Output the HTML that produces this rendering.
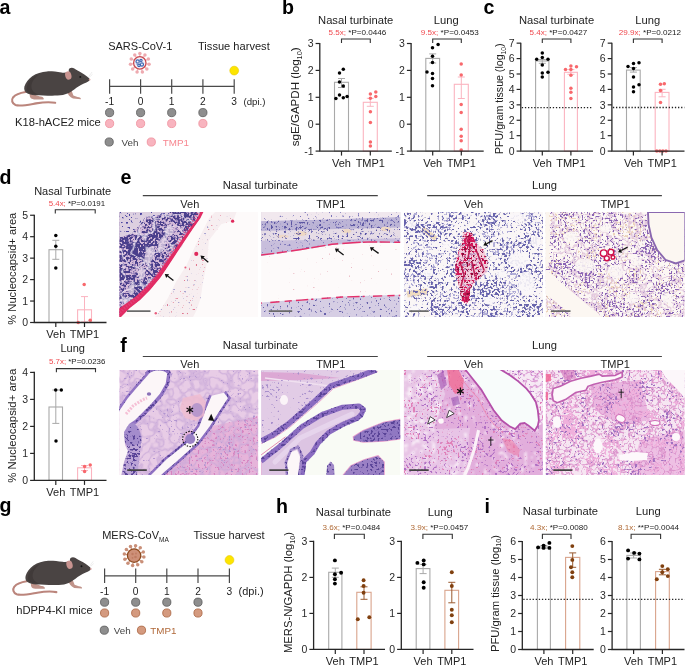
<!DOCTYPE html><html><head><meta charset="utf-8"><style>html,body{margin:0;padding:0;background:#fff;overflow:hidden}svg{display:block;will-change:transform}text{font-family:"Liberation Sans",sans-serif}</style></head><body>
<svg width="685" height="666" viewBox="0 0 685 666">
<rect width="685" height="666" fill="#fff"/>
<text x="-0.5" y="14" font-size="19.6" text-anchor="start" fill="#000" font-weight="bold" >a</text>
<text x="282.1" y="14" font-size="19.6" text-anchor="start" fill="#000" font-weight="bold" >b</text>
<text x="483.5" y="14.3" font-size="19.6" text-anchor="start" fill="#000" font-weight="bold" >c</text>
<text x="-0.5" y="183.7" font-size="19.6" text-anchor="start" fill="#000" font-weight="bold" >d</text>
<text x="120.5" y="184.0" font-size="19.6" text-anchor="start" fill="#000" font-weight="bold" >e</text>
<text x="120.3" y="352" font-size="19.6" text-anchor="start" fill="#000" font-weight="bold" >f</text>
<text x="-0.5" y="512.4" font-size="19.6" text-anchor="start" fill="#000" font-weight="bold" >g</text>
<text x="275.9" y="512.9" font-size="19.6" text-anchor="start" fill="#000" font-weight="bold" >h</text>
<text x="484.6" y="512.8" font-size="19.6" text-anchor="start" fill="#000" font-weight="bold" >i</text>
<rect x="334.5" y="82.3" width="14.0" height="68.8" fill="none" stroke="#a9a9a9" stroke-width="1.1"/>
<rect x="363.3" y="102.3" width="14.0" height="48.8" fill="none" stroke="#fbb4c0" stroke-width="1.1"/>
<line x1="341.5" y1="78.5" x2="341.5" y2="87.5" stroke="#a9a9a9" stroke-width="1"/>
<line x1="338.0" y1="78.5" x2="345.0" y2="78.5" stroke="#a9a9a9" stroke-width="1"/>
<line x1="338.0" y1="87.5" x2="345.0" y2="87.5" stroke="#a9a9a9" stroke-width="1"/>
<circle cx="343.3" cy="69.3" r="1.75" fill="#000"/>
<circle cx="339.5" cy="72.9" r="1.75" fill="#000"/>
<circle cx="339.5" cy="82" r="1.75" fill="#000"/>
<circle cx="343.3" cy="86" r="1.75" fill="#000"/>
<circle cx="339.5" cy="95" r="1.75" fill="#000"/>
<circle cx="335.9" cy="98.6" r="1.75" fill="#000"/>
<circle cx="343.3" cy="97.7" r="1.75" fill="#000"/>
<circle cx="347.1" cy="96.5" r="1.75" fill="#000"/>
<line x1="370.3" y1="98.3" x2="370.3" y2="106.3" stroke="#fbb4c0" stroke-width="1"/>
<line x1="366.8" y1="98.3" x2="373.8" y2="98.3" stroke="#fbb4c0" stroke-width="1"/>
<line x1="366.8" y1="106.3" x2="373.8" y2="106.3" stroke="#fbb4c0" stroke-width="1"/>
<circle cx="370.4" cy="94" r="1.75" fill="#f8686c"/>
<circle cx="375.8" cy="92" r="1.75" fill="#f8686c"/>
<circle cx="370.4" cy="98.3" r="1.75" fill="#f8686c"/>
<circle cx="375.8" cy="96.5" r="1.75" fill="#f8686c"/>
<circle cx="370.4" cy="111.8" r="1.75" fill="#f8686c"/>
<circle cx="370.4" cy="122.5" r="1.75" fill="#f8686c"/>
<circle cx="370.4" cy="141.9" r="1.75" fill="#f8686c"/>
<circle cx="370.4" cy="146" r="1.75" fill="#f8686c"/>
<path d="M319.8,42.9 V151.1 H391.8" fill="none" stroke="#262626" stroke-width="1.3"/>
<line x1="315.6" y1="43.5" x2="319.8" y2="43.5" stroke="#262626" stroke-width="1.2"/>
<text x="313.6" y="47.2" font-size="10.5" text-anchor="end" fill="#2a2a2a" font-weight="normal" >3</text>
<line x1="315.6" y1="70.4" x2="319.8" y2="70.4" stroke="#262626" stroke-width="1.2"/>
<text x="313.6" y="74.10000000000001" font-size="10.5" text-anchor="end" fill="#2a2a2a" font-weight="normal" >2</text>
<line x1="315.6" y1="97.3" x2="319.8" y2="97.3" stroke="#262626" stroke-width="1.2"/>
<text x="313.6" y="101.0" font-size="10.5" text-anchor="end" fill="#2a2a2a" font-weight="normal" >1</text>
<line x1="315.6" y1="124.2" x2="319.8" y2="124.2" stroke="#262626" stroke-width="1.2"/>
<text x="313.6" y="127.9" font-size="10.5" text-anchor="end" fill="#2a2a2a" font-weight="normal" >0</text>
<line x1="315.6" y1="151.1" x2="319.8" y2="151.1" stroke="#262626" stroke-width="1.2"/>
<text x="313.6" y="154.79999999999998" font-size="10.5" text-anchor="end" fill="#2a2a2a" font-weight="normal" >-1</text>
<line x1="341.5" y1="151.1" x2="341.5" y2="155.6" stroke="#262626" stroke-width="1.2"/>
<line x1="370.3" y1="151.1" x2="370.3" y2="155.6" stroke="#262626" stroke-width="1.2"/>
<rect x="425.8" y="58.4" width="13.800000000000011" height="92.69999999999999" fill="none" stroke="#a9a9a9" stroke-width="1.1"/>
<rect x="454.3" y="84.3" width="14.0" height="66.8" fill="none" stroke="#fbb4c0" stroke-width="1.1"/>
<line x1="432.7" y1="53.9" x2="432.7" y2="63" stroke="#a9a9a9" stroke-width="1"/>
<line x1="429.2" y1="53.9" x2="436.2" y2="53.9" stroke="#a9a9a9" stroke-width="1"/>
<line x1="429.2" y1="63" x2="436.2" y2="63" stroke="#a9a9a9" stroke-width="1"/>
<circle cx="438.1" cy="44.6" r="1.75" fill="#000"/>
<circle cx="432.5" cy="47.8" r="1.75" fill="#000"/>
<circle cx="432.5" cy="56.3" r="1.75" fill="#000"/>
<circle cx="432.5" cy="62.4" r="1.75" fill="#000"/>
<circle cx="427" cy="72.1" r="1.75" fill="#000"/>
<circle cx="432.5" cy="73.5" r="1.75" fill="#000"/>
<circle cx="432.5" cy="78.6" r="1.75" fill="#000"/>
<circle cx="432.5" cy="85.7" r="1.75" fill="#000"/>
<line x1="461.3" y1="77" x2="461.3" y2="98.5" stroke="#fbb4c0" stroke-width="1"/>
<line x1="457.8" y1="77" x2="464.8" y2="77" stroke="#fbb4c0" stroke-width="1"/>
<line x1="457.8" y1="98.5" x2="464.8" y2="98.5" stroke="#fbb4c0" stroke-width="1"/>
<circle cx="461.2" cy="64" r="1.75" fill="#f8686c"/>
<circle cx="461.2" cy="75" r="1.75" fill="#f8686c"/>
<circle cx="461.2" cy="104.5" r="1.75" fill="#f8686c"/>
<circle cx="461.2" cy="112.4" r="1.75" fill="#f8686c"/>
<circle cx="461.2" cy="129.3" r="1.75" fill="#f8686c"/>
<circle cx="461.2" cy="136.3" r="1.75" fill="#f8686c"/>
<circle cx="461.2" cy="140.8" r="1.75" fill="#f8686c"/>
<circle cx="461.2" cy="150" r="1.75" fill="#f8686c"/>
<path d="M411.1,42.9 V151.1 H483.7" fill="none" stroke="#262626" stroke-width="1.3"/>
<line x1="406.90000000000003" y1="43.5" x2="411.1" y2="43.5" stroke="#262626" stroke-width="1.2"/>
<text x="404.90000000000003" y="47.2" font-size="10.5" text-anchor="end" fill="#2a2a2a" font-weight="normal" >3</text>
<line x1="406.90000000000003" y1="70.4" x2="411.1" y2="70.4" stroke="#262626" stroke-width="1.2"/>
<text x="404.90000000000003" y="74.10000000000001" font-size="10.5" text-anchor="end" fill="#2a2a2a" font-weight="normal" >2</text>
<line x1="406.90000000000003" y1="97.3" x2="411.1" y2="97.3" stroke="#262626" stroke-width="1.2"/>
<text x="404.90000000000003" y="101.0" font-size="10.5" text-anchor="end" fill="#2a2a2a" font-weight="normal" >1</text>
<line x1="406.90000000000003" y1="124.2" x2="411.1" y2="124.2" stroke="#262626" stroke-width="1.2"/>
<text x="404.90000000000003" y="127.9" font-size="10.5" text-anchor="end" fill="#2a2a2a" font-weight="normal" >0</text>
<line x1="406.90000000000003" y1="151.1" x2="411.1" y2="151.1" stroke="#262626" stroke-width="1.2"/>
<text x="404.90000000000003" y="154.79999999999998" font-size="10.5" text-anchor="end" fill="#2a2a2a" font-weight="normal" >-1</text>
<line x1="432.7" y1="151.1" x2="432.7" y2="155.6" stroke="#262626" stroke-width="1.2"/>
<line x1="461.3" y1="151.1" x2="461.3" y2="155.6" stroke="#262626" stroke-width="1.2"/>
<text x="355.7" y="23.6" font-size="11.2" text-anchor="middle" fill="#222" font-weight="normal" >Nasal turbinate</text>
<text x="446.2" y="23.6" font-size="11.2" text-anchor="middle" fill="#222" font-weight="normal" >Lung</text>
<text x="328.5" y="34.8" font-size="8.1"><tspan fill="#f04a4f">5.5x;</tspan><tspan fill="#222"> *P=0.0446</tspan></text>
<text x="420.8" y="34.8" font-size="8.1"><tspan fill="#f04a4f">9.5x;</tspan><tspan fill="#222"> *P=0.0453</tspan></text>
<path d="M341.5,43 V39 H370.3 V43" fill="none" stroke="#333" stroke-width="1.1"/>
<path d="M432.7,43 V39 H461.3 V43" fill="none" stroke="#333" stroke-width="1.1"/>
<text x="341.5" y="166.6" font-size="11" text-anchor="middle" fill="#222" font-weight="normal" >Veh</text><text x="370.3" y="166.6" font-size="11" text-anchor="middle" fill="#222" font-weight="normal" >TMP1</text>
<text x="432.7" y="166.6" font-size="11" text-anchor="middle" fill="#222" font-weight="normal" >Veh</text><text x="461.3" y="166.6" font-size="11" text-anchor="middle" fill="#222" font-weight="normal" >TMP1</text>
<text transform="translate(299.3,96.8) rotate(-90)" x="0" y="0" font-size="11" text-anchor="middle" fill="#222" textLength="99" lengthAdjust="spacingAndGlyphs">sgE/GAPDH (log<tspan font-size="7" dy="2.5">10</tspan><tspan dy="-2.5">)</tspan></text>
<rect x="535.6" y="61" width="13.299999999999955" height="90.1" fill="none" stroke="#a9a9a9" stroke-width="1.1"/>
<rect x="564.4" y="72.3" width="13.0" height="78.8" fill="none" stroke="#fbb4c0" stroke-width="1.1"/>
<line x1="521.8" y1="107.7" x2="593" y2="107.7" stroke="#222" stroke-width="1.3" stroke-dasharray="1.3,1.8"/>
<line x1="542.3" y1="59.5" x2="542.3" y2="63.3" stroke="#a9a9a9" stroke-width="1"/>
<line x1="538.8" y1="59.5" x2="545.8" y2="59.5" stroke="#a9a9a9" stroke-width="1"/>
<line x1="538.8" y1="63.3" x2="545.8" y2="63.3" stroke="#a9a9a9" stroke-width="1"/>
<circle cx="542.3" cy="53" r="1.75" fill="#000"/>
<circle cx="542.3" cy="57.5" r="1.75" fill="#000"/>
<circle cx="536.7" cy="59.3" r="1.75" fill="#000"/>
<circle cx="548" cy="59.3" r="1.75" fill="#000"/>
<circle cx="542.3" cy="64.9" r="1.75" fill="#000"/>
<circle cx="542.3" cy="73" r="1.75" fill="#000"/>
<circle cx="548" cy="72.3" r="1.75" fill="#000"/>
<circle cx="542.3" cy="77" r="1.75" fill="#000"/>
<line x1="570.9" y1="69.6" x2="570.9" y2="74.3" stroke="#fbb4c0" stroke-width="1"/>
<line x1="567.4" y1="69.6" x2="574.4" y2="69.6" stroke="#fbb4c0" stroke-width="1"/>
<line x1="567.4" y1="74.3" x2="574.4" y2="74.3" stroke="#fbb4c0" stroke-width="1"/>
<circle cx="570.9" cy="66" r="1.75" fill="#f8686c"/>
<circle cx="576.5" cy="66.7" r="1.75" fill="#f8686c"/>
<circle cx="565.5" cy="69.6" r="1.75" fill="#f8686c"/>
<circle cx="570.9" cy="69.6" r="1.75" fill="#f8686c"/>
<circle cx="570.9" cy="75.2" r="1.75" fill="#f8686c"/>
<circle cx="570.9" cy="88.3" r="1.75" fill="#f8686c"/>
<circle cx="570.9" cy="92.3" r="1.75" fill="#f8686c"/>
<circle cx="570.9" cy="98.5" r="1.75" fill="#f8686c"/>
<path d="M520.8,42.699999999999996 V151.1 H593" fill="none" stroke="#262626" stroke-width="1.3"/>
<line x1="516.5999999999999" y1="43.16" x2="520.8" y2="43.16" stroke="#262626" stroke-width="1.2"/>
<text x="514.5999999999999" y="46.86" font-size="10.5" text-anchor="end" fill="#2a2a2a" font-weight="normal" >7</text>
<line x1="516.5999999999999" y1="58.58" x2="520.8" y2="58.58" stroke="#262626" stroke-width="1.2"/>
<text x="514.5999999999999" y="62.28" font-size="10.5" text-anchor="end" fill="#2a2a2a" font-weight="normal" >6</text>
<line x1="516.5999999999999" y1="74.0" x2="520.8" y2="74.0" stroke="#262626" stroke-width="1.2"/>
<text x="514.5999999999999" y="77.7" font-size="10.5" text-anchor="end" fill="#2a2a2a" font-weight="normal" >5</text>
<line x1="516.5999999999999" y1="89.41999999999999" x2="520.8" y2="89.41999999999999" stroke="#262626" stroke-width="1.2"/>
<text x="514.5999999999999" y="93.11999999999999" font-size="10.5" text-anchor="end" fill="#2a2a2a" font-weight="normal" >4</text>
<line x1="516.5999999999999" y1="104.84" x2="520.8" y2="104.84" stroke="#262626" stroke-width="1.2"/>
<text x="514.5999999999999" y="108.54" font-size="10.5" text-anchor="end" fill="#2a2a2a" font-weight="normal" >3</text>
<line x1="516.5999999999999" y1="120.25999999999999" x2="520.8" y2="120.25999999999999" stroke="#262626" stroke-width="1.2"/>
<text x="514.5999999999999" y="123.96" font-size="10.5" text-anchor="end" fill="#2a2a2a" font-weight="normal" >2</text>
<line x1="516.5999999999999" y1="135.68" x2="520.8" y2="135.68" stroke="#262626" stroke-width="1.2"/>
<text x="514.5999999999999" y="139.38" font-size="10.5" text-anchor="end" fill="#2a2a2a" font-weight="normal" >1</text>
<line x1="516.5999999999999" y1="151.1" x2="520.8" y2="151.1" stroke="#262626" stroke-width="1.2"/>
<text x="514.5999999999999" y="154.79999999999998" font-size="10.5" text-anchor="end" fill="#2a2a2a" font-weight="normal" >0</text>
<line x1="542.3" y1="151.1" x2="542.3" y2="155.6" stroke="#262626" stroke-width="1.2"/>
<line x1="570.9" y1="151.1" x2="570.9" y2="155.6" stroke="#262626" stroke-width="1.2"/>
<rect x="626.5" y="70.1" width="13.700000000000045" height="81.0" fill="none" stroke="#a9a9a9" stroke-width="1.1"/>
<rect x="655.2" y="92.4" width="13.799999999999955" height="58.69999999999999" fill="none" stroke="#fbb4c0" stroke-width="1.1"/>
<line x1="612.9" y1="107.5" x2="684.5" y2="107.5" stroke="#222" stroke-width="1.3" stroke-dasharray="1.3,1.8"/>
<line x1="633.4" y1="67.5" x2="633.4" y2="72.1" stroke="#a9a9a9" stroke-width="1"/>
<line x1="629.9" y1="67.5" x2="636.9" y2="67.5" stroke="#a9a9a9" stroke-width="1"/>
<line x1="629.9" y1="72.1" x2="636.9" y2="72.1" stroke="#a9a9a9" stroke-width="1"/>
<circle cx="628" cy="66.5" r="1.75" fill="#000"/>
<circle cx="633.5" cy="63.4" r="1.75" fill="#000"/>
<circle cx="639" cy="62.8" r="1.75" fill="#000"/>
<circle cx="633.5" cy="68.5" r="1.75" fill="#000"/>
<circle cx="633.5" cy="77" r="1.75" fill="#000"/>
<circle cx="639" cy="84.7" r="1.75" fill="#000"/>
<circle cx="633.5" cy="87.1" r="1.75" fill="#000"/>
<circle cx="633.5" cy="91.8" r="1.75" fill="#000"/>
<line x1="662.1" y1="89.3" x2="662.1" y2="96.8" stroke="#fbb4c0" stroke-width="1"/>
<line x1="658.6" y1="89.3" x2="665.6" y2="89.3" stroke="#fbb4c0" stroke-width="1"/>
<line x1="658.6" y1="96.8" x2="665.6" y2="96.8" stroke="#fbb4c0" stroke-width="1"/>
<circle cx="660.5" cy="84.3" r="1.75" fill="#f8686c"/>
<circle cx="664.3" cy="83.7" r="1.75" fill="#f8686c"/>
<circle cx="660.5" cy="90.4" r="1.75" fill="#f8686c"/>
<circle cx="660.5" cy="102.5" r="1.75" fill="#f8686c"/>
<circle cx="656.8" cy="151" r="1.75" fill="#f8686c"/>
<circle cx="659.9" cy="151" r="1.75" fill="#f8686c"/>
<circle cx="662.9" cy="151" r="1.75" fill="#f8686c"/>
<circle cx="666" cy="151" r="1.75" fill="#f8686c"/>
<path d="M611.9,42.699999999999996 V151.1 H684.5" fill="none" stroke="#262626" stroke-width="1.3"/>
<line x1="607.6999999999999" y1="43.16" x2="611.9" y2="43.16" stroke="#262626" stroke-width="1.2"/>
<text x="605.6999999999999" y="46.86" font-size="10.5" text-anchor="end" fill="#2a2a2a" font-weight="normal" >7</text>
<line x1="607.6999999999999" y1="58.58" x2="611.9" y2="58.58" stroke="#262626" stroke-width="1.2"/>
<text x="605.6999999999999" y="62.28" font-size="10.5" text-anchor="end" fill="#2a2a2a" font-weight="normal" >6</text>
<line x1="607.6999999999999" y1="74.0" x2="611.9" y2="74.0" stroke="#262626" stroke-width="1.2"/>
<text x="605.6999999999999" y="77.7" font-size="10.5" text-anchor="end" fill="#2a2a2a" font-weight="normal" >5</text>
<line x1="607.6999999999999" y1="89.41999999999999" x2="611.9" y2="89.41999999999999" stroke="#262626" stroke-width="1.2"/>
<text x="605.6999999999999" y="93.11999999999999" font-size="10.5" text-anchor="end" fill="#2a2a2a" font-weight="normal" >4</text>
<line x1="607.6999999999999" y1="104.84" x2="611.9" y2="104.84" stroke="#262626" stroke-width="1.2"/>
<text x="605.6999999999999" y="108.54" font-size="10.5" text-anchor="end" fill="#2a2a2a" font-weight="normal" >3</text>
<line x1="607.6999999999999" y1="120.25999999999999" x2="611.9" y2="120.25999999999999" stroke="#262626" stroke-width="1.2"/>
<text x="605.6999999999999" y="123.96" font-size="10.5" text-anchor="end" fill="#2a2a2a" font-weight="normal" >2</text>
<line x1="607.6999999999999" y1="135.68" x2="611.9" y2="135.68" stroke="#262626" stroke-width="1.2"/>
<text x="605.6999999999999" y="139.38" font-size="10.5" text-anchor="end" fill="#2a2a2a" font-weight="normal" >1</text>
<line x1="607.6999999999999" y1="151.1" x2="611.9" y2="151.1" stroke="#262626" stroke-width="1.2"/>
<text x="605.6999999999999" y="154.79999999999998" font-size="10.5" text-anchor="end" fill="#2a2a2a" font-weight="normal" >0</text>
<line x1="633.4" y1="151.1" x2="633.4" y2="155.6" stroke="#262626" stroke-width="1.2"/>
<line x1="662.1" y1="151.1" x2="662.1" y2="155.6" stroke="#262626" stroke-width="1.2"/>
<text x="556.5" y="23.6" font-size="11.2" text-anchor="middle" fill="#222" font-weight="normal" >Nasal turbinate</text>
<text x="647.8" y="23.6" font-size="11.2" text-anchor="middle" fill="#222" font-weight="normal" >Lung</text>
<text x="529.4" y="34.8" font-size="8.1"><tspan fill="#f04a4f">5.4x;</tspan><tspan fill="#222"> *P=0.0427</tspan></text>
<text x="618.7" y="34.8" font-size="8.1"><tspan fill="#f04a4f">29.9x;</tspan><tspan fill="#222"> *P=0.0212</tspan></text>
<path d="M542.3,43 V39 H570.9 V43" fill="none" stroke="#333" stroke-width="1.1"/>
<path d="M633.4,43 V39 H662.1 V43" fill="none" stroke="#333" stroke-width="1.1"/>
<text x="542.3" y="166.6" font-size="11" text-anchor="middle" fill="#222" font-weight="normal" >Veh</text><text x="570.9" y="166.6" font-size="11" text-anchor="middle" fill="#222" font-weight="normal" >TMP1</text>
<text x="633.4" y="166.6" font-size="11" text-anchor="middle" fill="#222" font-weight="normal" >Veh</text><text x="662.1" y="166.6" font-size="11" text-anchor="middle" fill="#222" font-weight="normal" >TMP1</text>
<text transform="translate(503.3,98.7) rotate(-90)" x="0" y="0" font-size="11" text-anchor="middle" fill="#222" textLength="110.6" lengthAdjust="spacingAndGlyphs">PFU/gram tissue (log<tspan font-size="7" dy="2.5">10</tspan><tspan dy="-2.5">)</tspan></text>
<rect x="49" y="249.7" width="13.700000000000003" height="72.80000000000001" fill="none" stroke="#a9a9a9" stroke-width="1.1"/>
<rect x="77.6" y="309.8" width="13.900000000000006" height="12.699999999999989" fill="none" stroke="#fbb4c0" stroke-width="1.1"/>
<line x1="55.8" y1="240.3" x2="55.8" y2="259.3" stroke="#a9a9a9" stroke-width="1"/>
<line x1="52.3" y1="240.3" x2="59.3" y2="240.3" stroke="#a9a9a9" stroke-width="1"/>
<line x1="52.3" y1="259.3" x2="59.3" y2="259.3" stroke="#a9a9a9" stroke-width="1"/>
<circle cx="55.8" cy="235.5" r="1.75" fill="#000"/>
<circle cx="55.8" cy="246.3" r="1.75" fill="#000"/>
<circle cx="55.8" cy="268" r="1.75" fill="#000"/>
<line x1="84.5" y1="296.6" x2="84.5" y2="322" stroke="#fbb4c0" stroke-width="1"/>
<line x1="81.0" y1="296.6" x2="88.0" y2="296.6" stroke="#fbb4c0" stroke-width="1"/>
<line x1="81.0" y1="322" x2="88.0" y2="322" stroke="#fbb4c0" stroke-width="1"/>
<circle cx="84.2" cy="284.5" r="1.75" fill="#f8686c"/>
<circle cx="90.2" cy="320.3" r="1.75" fill="#f8686c"/>
<circle cx="78.2" cy="322.5" r="1.75" fill="#f8686c"/>
<path d="M34.3,214.65 V322.5 H106.5" fill="none" stroke="#262626" stroke-width="1.3"/>
<line x1="30.099999999999998" y1="215.25" x2="34.3" y2="215.25" stroke="#262626" stroke-width="1.2"/>
<text x="28.099999999999998" y="218.95" font-size="10.5" text-anchor="end" fill="#2a2a2a" font-weight="normal" >5</text>
<line x1="30.099999999999998" y1="236.7" x2="34.3" y2="236.7" stroke="#262626" stroke-width="1.2"/>
<text x="28.099999999999998" y="240.39999999999998" font-size="10.5" text-anchor="end" fill="#2a2a2a" font-weight="normal" >4</text>
<line x1="30.099999999999998" y1="258.15" x2="34.3" y2="258.15" stroke="#262626" stroke-width="1.2"/>
<text x="28.099999999999998" y="261.84999999999997" font-size="10.5" text-anchor="end" fill="#2a2a2a" font-weight="normal" >3</text>
<line x1="30.099999999999998" y1="279.6" x2="34.3" y2="279.6" stroke="#262626" stroke-width="1.2"/>
<text x="28.099999999999998" y="283.3" font-size="10.5" text-anchor="end" fill="#2a2a2a" font-weight="normal" >2</text>
<line x1="30.099999999999998" y1="301.05" x2="34.3" y2="301.05" stroke="#262626" stroke-width="1.2"/>
<text x="28.099999999999998" y="304.75" font-size="10.5" text-anchor="end" fill="#2a2a2a" font-weight="normal" >1</text>
<line x1="30.099999999999998" y1="322.5" x2="34.3" y2="322.5" stroke="#262626" stroke-width="1.2"/>
<text x="28.099999999999998" y="326.2" font-size="10.5" text-anchor="end" fill="#2a2a2a" font-weight="normal" >0</text>
<line x1="55.8" y1="322.5" x2="55.8" y2="327.0" stroke="#262626" stroke-width="1.2"/>
<line x1="84.5" y1="322.5" x2="84.5" y2="327.0" stroke="#262626" stroke-width="1.2"/>
<rect x="49" y="407" width="13.5" height="73.39999999999998" fill="none" stroke="#a9a9a9" stroke-width="1.1"/>
<rect x="77.6" y="467.8" width="13.900000000000006" height="12.599999999999966" fill="none" stroke="#fbb4c0" stroke-width="1.1"/>
<line x1="55.8" y1="390" x2="55.8" y2="423.4" stroke="#a9a9a9" stroke-width="1"/>
<line x1="52.3" y1="390" x2="59.3" y2="390" stroke="#a9a9a9" stroke-width="1"/>
<line x1="52.3" y1="423.4" x2="59.3" y2="423.4" stroke="#a9a9a9" stroke-width="1"/>
<circle cx="55.7" cy="390.1" r="1.75" fill="#000"/>
<circle cx="61.3" cy="390" r="1.75" fill="#000"/>
<circle cx="56" cy="441" r="1.75" fill="#000"/>
<line x1="84.5" y1="465.5" x2="84.5" y2="470.5" stroke="#fbb4c0" stroke-width="1"/>
<line x1="81.0" y1="465.5" x2="88.0" y2="465.5" stroke="#fbb4c0" stroke-width="1"/>
<line x1="81.0" y1="470.5" x2="88.0" y2="470.5" stroke="#fbb4c0" stroke-width="1"/>
<circle cx="84.6" cy="466.4" r="1.75" fill="#f8686c"/>
<circle cx="90.2" cy="465" r="1.75" fill="#f8686c"/>
<circle cx="84.6" cy="471.6" r="1.75" fill="#f8686c"/>
<path d="M34.3,371.79999999999995 V480.4 H106.5" fill="none" stroke="#262626" stroke-width="1.3"/>
<line x1="30.099999999999998" y1="372.4" x2="34.3" y2="372.4" stroke="#262626" stroke-width="1.2"/>
<text x="28.099999999999998" y="376.09999999999997" font-size="10.5" text-anchor="end" fill="#2a2a2a" font-weight="normal" >4</text>
<line x1="30.099999999999998" y1="399.4" x2="34.3" y2="399.4" stroke="#262626" stroke-width="1.2"/>
<text x="28.099999999999998" y="403.09999999999997" font-size="10.5" text-anchor="end" fill="#2a2a2a" font-weight="normal" >3</text>
<line x1="30.099999999999998" y1="426.4" x2="34.3" y2="426.4" stroke="#262626" stroke-width="1.2"/>
<text x="28.099999999999998" y="430.09999999999997" font-size="10.5" text-anchor="end" fill="#2a2a2a" font-weight="normal" >2</text>
<line x1="30.099999999999998" y1="453.4" x2="34.3" y2="453.4" stroke="#262626" stroke-width="1.2"/>
<text x="28.099999999999998" y="457.09999999999997" font-size="10.5" text-anchor="end" fill="#2a2a2a" font-weight="normal" >1</text>
<line x1="30.099999999999998" y1="480.4" x2="34.3" y2="480.4" stroke="#262626" stroke-width="1.2"/>
<text x="28.099999999999998" y="484.09999999999997" font-size="10.5" text-anchor="end" fill="#2a2a2a" font-weight="normal" >0</text>
<line x1="55.8" y1="480.4" x2="55.8" y2="484.9" stroke="#262626" stroke-width="1.2"/>
<line x1="84.5" y1="480.4" x2="84.5" y2="484.9" stroke="#262626" stroke-width="1.2"/>
<text x="72.7" y="195" font-size="11" text-anchor="middle" fill="#222" font-weight="normal" >Nasal Turbinate</text>
<text x="72.7" y="352.3" font-size="11" text-anchor="middle" fill="#222" font-weight="normal" >Lung</text>
<text x="48.7" y="206.4" font-size="7.9"><tspan fill="#f04a4f">5.4x;</tspan><tspan fill="#222"> *P=0.0191</tspan></text>
<text x="49" y="364.3" font-size="7.9"><tspan fill="#f04a4f">5.7x;</tspan><tspan fill="#222"> *P=0.0236</tspan></text>
<path d="M55.3,213.4 V209.8 H95.2 V213.4" fill="none" stroke="#333" stroke-width="1.1"/>
<path d="M56.4,372.20000000000005 V368.6 H95.5 V372.20000000000005" fill="none" stroke="#333" stroke-width="1.1"/>
<text x="55.8" y="338.3" font-size="11" text-anchor="middle" fill="#222" font-weight="normal" >Veh</text><text x="84.5" y="338.3" font-size="11" text-anchor="middle" fill="#222" font-weight="normal" >TMP1</text>
<text x="55.8" y="495.7" font-size="11" text-anchor="middle" fill="#222" font-weight="normal" >Veh</text><text x="84.5" y="495.7" font-size="11" text-anchor="middle" fill="#222" font-weight="normal" >TMP1</text>
<text transform="translate(15.6,268.7) rotate(-90)" x="0" y="0" font-size="11" text-anchor="middle" fill="#222" textLength="112" lengthAdjust="spacingAndGlyphs">% Nucleocapsid+ area</text>
<text transform="translate(15.6,425.8) rotate(-90)" x="0" y="0" font-size="11" text-anchor="middle" fill="#222" textLength="114" lengthAdjust="spacingAndGlyphs">% Nucleocapsid+ area</text>
<rect x="328.7" y="572.3" width="13.199999999999989" height="77.10000000000002" fill="none" stroke="#a9a9a9" stroke-width="1.1"/>
<rect x="356.8" y="592.3" width="14.300000000000011" height="57.10000000000002" fill="none" stroke="#d9a48c" stroke-width="1.1"/>
<line x1="335.3" y1="568.1" x2="335.3" y2="577.3" stroke="#a9a9a9" stroke-width="1"/>
<line x1="331.8" y1="568.1" x2="338.8" y2="568.1" stroke="#a9a9a9" stroke-width="1"/>
<line x1="331.8" y1="577.3" x2="338.8" y2="577.3" stroke="#a9a9a9" stroke-width="1"/>
<circle cx="334.9" cy="560.4" r="1.95" fill="#000"/>
<circle cx="341.1" cy="572.8" r="1.95" fill="#000"/>
<circle cx="334.9" cy="574.3" r="1.95" fill="#000"/>
<circle cx="334.9" cy="579.3" r="1.95" fill="#000"/>
<circle cx="334.9" cy="583.6" r="1.95" fill="#000"/>
<line x1="364" y1="586.8" x2="364" y2="599.3" stroke="#9a5a30" stroke-width="1"/>
<line x1="360.5" y1="586.8" x2="367.5" y2="586.8" stroke="#9a5a30" stroke-width="1"/>
<line x1="360.5" y1="599.3" x2="367.5" y2="599.3" stroke="#9a5a30" stroke-width="1"/>
<circle cx="363.6" cy="580.3" r="1.95" fill="#80400f"/>
<circle cx="363.6" cy="586" r="1.95" fill="#80400f"/>
<circle cx="363.6" cy="592.8" r="1.95" fill="#80400f"/>
<circle cx="357.8" cy="619.2" r="1.95" fill="#80400f"/>
<circle cx="369.3" cy="617.2" r="1.95" fill="#80400f"/>
<path d="M313.6,540.8 V649.4 H385" fill="none" stroke="#262626" stroke-width="1.3"/>
<line x1="309.40000000000003" y1="541.4" x2="313.6" y2="541.4" stroke="#262626" stroke-width="1.2"/>
<text x="307.40000000000003" y="545.1" font-size="10.5" text-anchor="end" fill="#2a2a2a" font-weight="normal" >3</text>
<line x1="309.40000000000003" y1="577.4" x2="313.6" y2="577.4" stroke="#262626" stroke-width="1.2"/>
<text x="307.40000000000003" y="581.1" font-size="10.5" text-anchor="end" fill="#2a2a2a" font-weight="normal" >2</text>
<line x1="309.40000000000003" y1="613.4" x2="313.6" y2="613.4" stroke="#262626" stroke-width="1.2"/>
<text x="307.40000000000003" y="617.1" font-size="10.5" text-anchor="end" fill="#2a2a2a" font-weight="normal" >1</text>
<line x1="309.40000000000003" y1="649.4" x2="313.6" y2="649.4" stroke="#262626" stroke-width="1.2"/>
<text x="307.40000000000003" y="653.1" font-size="10.5" text-anchor="end" fill="#2a2a2a" font-weight="normal" >0</text>
<line x1="335.3" y1="649.4" x2="335.3" y2="653.9" stroke="#262626" stroke-width="1.2"/>
<line x1="364" y1="649.4" x2="364" y2="653.9" stroke="#262626" stroke-width="1.2"/>
<rect x="416.2" y="568.6" width="13.699999999999989" height="80.79999999999995" fill="none" stroke="#a9a9a9" stroke-width="1.1"/>
<rect x="444.9" y="590.3" width="13.700000000000045" height="59.10000000000002" fill="none" stroke="#d9a48c" stroke-width="1.1"/>
<line x1="423.1" y1="564.4" x2="423.1" y2="573.6" stroke="#a9a9a9" stroke-width="1"/>
<line x1="419.6" y1="564.4" x2="426.6" y2="564.4" stroke="#a9a9a9" stroke-width="1"/>
<line x1="419.6" y1="573.6" x2="426.6" y2="573.6" stroke="#a9a9a9" stroke-width="1"/>
<circle cx="417.4" cy="562.9" r="1.95" fill="#000"/>
<circle cx="423.7" cy="560.4" r="1.95" fill="#000"/>
<circle cx="423.7" cy="564.4" r="1.95" fill="#000"/>
<circle cx="423.7" cy="582.3" r="1.95" fill="#000"/>
<circle cx="423.7" cy="587.8" r="1.95" fill="#000"/>
<line x1="451.8" y1="582.3" x2="451.8" y2="602.8" stroke="#9a5a30" stroke-width="1"/>
<line x1="448.3" y1="582.3" x2="455.3" y2="582.3" stroke="#9a5a30" stroke-width="1"/>
<line x1="448.3" y1="602.8" x2="455.3" y2="602.8" stroke="#9a5a30" stroke-width="1"/>
<circle cx="451.8" cy="572.3" r="1.95" fill="#80400f"/>
<circle cx="451.8" cy="586" r="1.95" fill="#80400f"/>
<circle cx="451.8" cy="609.8" r="1.95" fill="#80400f"/>
<circle cx="451.8" cy="615.2" r="1.95" fill="#80400f"/>
<circle cx="451.8" cy="622.2" r="1.95" fill="#80400f"/>
<path d="M401.3,540.8 V649.4 H473.5" fill="none" stroke="#262626" stroke-width="1.3"/>
<line x1="397.1" y1="541.4" x2="401.3" y2="541.4" stroke="#262626" stroke-width="1.2"/>
<text x="395.1" y="545.1" font-size="10.5" text-anchor="end" fill="#2a2a2a" font-weight="normal" >3</text>
<line x1="397.1" y1="577.4" x2="401.3" y2="577.4" stroke="#262626" stroke-width="1.2"/>
<text x="395.1" y="581.1" font-size="10.5" text-anchor="end" fill="#2a2a2a" font-weight="normal" >2</text>
<line x1="397.1" y1="613.4" x2="401.3" y2="613.4" stroke="#262626" stroke-width="1.2"/>
<text x="395.1" y="617.1" font-size="10.5" text-anchor="end" fill="#2a2a2a" font-weight="normal" >1</text>
<line x1="397.1" y1="649.4" x2="401.3" y2="649.4" stroke="#262626" stroke-width="1.2"/>
<text x="395.1" y="653.1" font-size="10.5" text-anchor="end" fill="#2a2a2a" font-weight="normal" >0</text>
<line x1="423.1" y1="649.4" x2="423.1" y2="653.9" stroke="#262626" stroke-width="1.2"/>
<line x1="451.8" y1="649.4" x2="451.8" y2="653.9" stroke="#262626" stroke-width="1.2"/>
<text x="353.4" y="515.6" font-size="11.2" text-anchor="middle" fill="#222" font-weight="normal" >Nasal turbinate</text>
<text x="440.2" y="515.6" font-size="11.2" text-anchor="middle" fill="#222" font-weight="normal" >Lung</text>
<text x="322.4" y="529.8" font-size="8.1"><tspan fill="#b06a35">3.6x;</tspan><tspan fill="#222"> *P=0.0484</tspan></text>
<text x="410.4" y="529.8" font-size="8.1"><tspan fill="#b06a35">3.9x;</tspan><tspan fill="#222"> *P=0.0457</tspan></text>
<path d="M334.4,538.9 V534.3 H364.3 V538.9" fill="none" stroke="#333" stroke-width="1.1"/>
<path d="M422.9,538.9 V534.3 H452.3 V538.9" fill="none" stroke="#333" stroke-width="1.1"/>
<text x="335.3" y="665" font-size="11" text-anchor="middle" fill="#222" font-weight="normal" >Veh</text><text x="364" y="665" font-size="11" text-anchor="middle" fill="#222" font-weight="normal" >TMP1</text>
<text x="423.1" y="665" font-size="11" text-anchor="middle" fill="#222" font-weight="normal" >Veh</text><text x="451.8" y="665" font-size="11" text-anchor="middle" fill="#222" font-weight="normal" >TMP1</text>
<text transform="translate(292.3,592.5) rotate(-90)" x="0" y="0" font-size="11" text-anchor="middle" fill="#222" textLength="121" lengthAdjust="spacingAndGlyphs">MERS-N/GAPDH (log<tspan font-size="7" dy="2.5">10</tspan><tspan dy="-2.5">)</tspan></text>
<rect x="537.4" y="546.9" width="13.0" height="102.60000000000002" fill="none" stroke="#a9a9a9" stroke-width="1.1"/>
<rect x="565.6" y="557.4" width="14.199999999999932" height="92.10000000000002" fill="none" stroke="#d9a48c" stroke-width="1.1"/>
<line x1="523.3" y1="599.3" x2="593.7" y2="599.3" stroke="#222" stroke-width="1.3" stroke-dasharray="1.3,1.8"/>
<line x1="543.9" y1="545.5" x2="543.9" y2="548.3" stroke="#a9a9a9" stroke-width="1"/>
<line x1="540.4" y1="545.5" x2="547.4" y2="545.5" stroke="#a9a9a9" stroke-width="1"/>
<line x1="540.4" y1="548.3" x2="547.4" y2="548.3" stroke="#a9a9a9" stroke-width="1"/>
<circle cx="538.1" cy="547.4" r="1.95" fill="#000"/>
<circle cx="543.6" cy="545.6" r="1.95" fill="#000"/>
<circle cx="549.4" cy="542.9" r="1.95" fill="#000"/>
<circle cx="549.4" cy="547.9" r="1.95" fill="#000"/>
<circle cx="543.6" cy="547.9" r="1.95" fill="#000"/>
<line x1="572.7" y1="552.9" x2="572.7" y2="567.3" stroke="#9a5a30" stroke-width="1"/>
<line x1="569.2" y1="552.9" x2="576.2" y2="552.9" stroke="#9a5a30" stroke-width="1"/>
<line x1="569.2" y1="567.3" x2="576.2" y2="567.3" stroke="#9a5a30" stroke-width="1"/>
<circle cx="572.3" cy="546.1" r="1.95" fill="#80400f"/>
<circle cx="572.3" cy="559.9" r="1.95" fill="#80400f"/>
<circle cx="571" cy="567.3" r="1.95" fill="#80400f"/>
<circle cx="572.3" cy="572.3" r="1.95" fill="#80400f"/>
<circle cx="572.3" cy="577.3" r="1.95" fill="#80400f"/>
<path d="M522.3,540.9 V649.5 H593.7" fill="none" stroke="#262626" stroke-width="1.3"/>
<line x1="518.0999999999999" y1="541.5" x2="522.3" y2="541.5" stroke="#262626" stroke-width="1.2"/>
<text x="516.0999999999999" y="545.2" font-size="10.5" text-anchor="end" fill="#2a2a2a" font-weight="normal" >6</text>
<line x1="518.0999999999999" y1="559.5" x2="522.3" y2="559.5" stroke="#262626" stroke-width="1.2"/>
<text x="516.0999999999999" y="563.2" font-size="10.5" text-anchor="end" fill="#2a2a2a" font-weight="normal" >5</text>
<line x1="518.0999999999999" y1="577.5" x2="522.3" y2="577.5" stroke="#262626" stroke-width="1.2"/>
<text x="516.0999999999999" y="581.2" font-size="10.5" text-anchor="end" fill="#2a2a2a" font-weight="normal" >4</text>
<line x1="518.0999999999999" y1="595.5" x2="522.3" y2="595.5" stroke="#262626" stroke-width="1.2"/>
<text x="516.0999999999999" y="599.2" font-size="10.5" text-anchor="end" fill="#2a2a2a" font-weight="normal" >3</text>
<line x1="518.0999999999999" y1="613.5" x2="522.3" y2="613.5" stroke="#262626" stroke-width="1.2"/>
<text x="516.0999999999999" y="617.2" font-size="10.5" text-anchor="end" fill="#2a2a2a" font-weight="normal" >2</text>
<line x1="518.0999999999999" y1="631.5" x2="522.3" y2="631.5" stroke="#262626" stroke-width="1.2"/>
<text x="516.0999999999999" y="635.2" font-size="10.5" text-anchor="end" fill="#2a2a2a" font-weight="normal" >1</text>
<line x1="518.0999999999999" y1="649.5" x2="522.3" y2="649.5" stroke="#262626" stroke-width="1.2"/>
<text x="516.0999999999999" y="653.2" font-size="10.5" text-anchor="end" fill="#2a2a2a" font-weight="normal" >0</text>
<line x1="543.9" y1="649.5" x2="543.9" y2="654.0" stroke="#262626" stroke-width="1.2"/>
<line x1="572.7" y1="649.5" x2="572.7" y2="654.0" stroke="#262626" stroke-width="1.2"/>
<rect x="626.9" y="555.4" width="13.5" height="94.10000000000002" fill="none" stroke="#a9a9a9" stroke-width="1.1"/>
<rect x="655.6" y="571.6" width="13.699999999999932" height="77.89999999999998" fill="none" stroke="#d9a48c" stroke-width="1.1"/>
<line x1="613.1" y1="599.3" x2="684.5" y2="599.3" stroke="#222" stroke-width="1.3" stroke-dasharray="1.3,1.8"/>
<line x1="633.6" y1="553" x2="633.6" y2="558" stroke="#a9a9a9" stroke-width="1"/>
<line x1="630.1" y1="553" x2="637.1" y2="553" stroke="#a9a9a9" stroke-width="1"/>
<line x1="630.1" y1="558" x2="637.1" y2="558" stroke="#a9a9a9" stroke-width="1"/>
<circle cx="628.1" cy="550.4" r="1.95" fill="#000"/>
<circle cx="634.1" cy="552.9" r="1.95" fill="#000"/>
<circle cx="639.4" cy="553.6" r="1.95" fill="#000"/>
<circle cx="628.1" cy="558.6" r="1.95" fill="#000"/>
<circle cx="639.4" cy="559.4" r="1.95" fill="#000"/>
<line x1="662.4" y1="569.3" x2="662.4" y2="574.8" stroke="#9a5a30" stroke-width="1"/>
<line x1="658.9" y1="569.3" x2="665.9" y2="569.3" stroke="#9a5a30" stroke-width="1"/>
<line x1="658.9" y1="574.8" x2="665.9" y2="574.8" stroke="#9a5a30" stroke-width="1"/>
<circle cx="662.3" cy="566.1" r="1.95" fill="#80400f"/>
<circle cx="667.8" cy="569.3" r="1.95" fill="#80400f"/>
<circle cx="662.3" cy="572.3" r="1.95" fill="#80400f"/>
<circle cx="656.8" cy="579.3" r="1.95" fill="#80400f"/>
<circle cx="667.8" cy="576.1" r="1.95" fill="#80400f"/>
<path d="M612.1,540.9 V649.5 H684.5" fill="none" stroke="#262626" stroke-width="1.3"/>
<line x1="607.9" y1="541.5" x2="612.1" y2="541.5" stroke="#262626" stroke-width="1.2"/>
<text x="605.9" y="545.2" font-size="10.5" text-anchor="end" fill="#2a2a2a" font-weight="normal" >6</text>
<line x1="607.9" y1="559.5" x2="612.1" y2="559.5" stroke="#262626" stroke-width="1.2"/>
<text x="605.9" y="563.2" font-size="10.5" text-anchor="end" fill="#2a2a2a" font-weight="normal" >5</text>
<line x1="607.9" y1="577.5" x2="612.1" y2="577.5" stroke="#262626" stroke-width="1.2"/>
<text x="605.9" y="581.2" font-size="10.5" text-anchor="end" fill="#2a2a2a" font-weight="normal" >4</text>
<line x1="607.9" y1="595.5" x2="612.1" y2="595.5" stroke="#262626" stroke-width="1.2"/>
<text x="605.9" y="599.2" font-size="10.5" text-anchor="end" fill="#2a2a2a" font-weight="normal" >3</text>
<line x1="607.9" y1="613.5" x2="612.1" y2="613.5" stroke="#262626" stroke-width="1.2"/>
<text x="605.9" y="617.2" font-size="10.5" text-anchor="end" fill="#2a2a2a" font-weight="normal" >2</text>
<line x1="607.9" y1="631.5" x2="612.1" y2="631.5" stroke="#262626" stroke-width="1.2"/>
<text x="605.9" y="635.2" font-size="10.5" text-anchor="end" fill="#2a2a2a" font-weight="normal" >1</text>
<line x1="607.9" y1="649.5" x2="612.1" y2="649.5" stroke="#262626" stroke-width="1.2"/>
<text x="605.9" y="653.2" font-size="10.5" text-anchor="end" fill="#2a2a2a" font-weight="normal" >0</text>
<line x1="633.6" y1="649.5" x2="633.6" y2="654.0" stroke="#262626" stroke-width="1.2"/>
<line x1="662.4" y1="649.5" x2="662.4" y2="654.0" stroke="#262626" stroke-width="1.2"/>
<text x="560.4" y="515.4" font-size="11.2" text-anchor="middle" fill="#222" font-weight="normal" >Nasal turbinate</text>
<text x="648.2" y="515.4" font-size="11.2" text-anchor="middle" fill="#222" font-weight="normal" >Lung</text>
<text x="529.9" y="529.8" font-size="8.1"><tspan fill="#b06a35">4.3x;</tspan><tspan fill="#222"> *P=0.0080</tspan></text>
<text x="617.9" y="529.8" font-size="8.1"><tspan fill="#b06a35">8.1x;</tspan><tspan fill="#222"> **P=0.0044</tspan></text>
<path d="M542.4,538.9 V534.3 H571 V538.9" fill="none" stroke="#333" stroke-width="1.1"/>
<path d="M631.1,538.9 V534.3 H660.6 V538.9" fill="none" stroke="#333" stroke-width="1.1"/>
<text x="543.9" y="665" font-size="11" text-anchor="middle" fill="#222" font-weight="normal" >Veh</text><text x="572.7" y="665" font-size="11" text-anchor="middle" fill="#222" font-weight="normal" >TMP1</text>
<text x="633.6" y="665" font-size="11" text-anchor="middle" fill="#222" font-weight="normal" >Veh</text><text x="662.4" y="665" font-size="11" text-anchor="middle" fill="#222" font-weight="normal" >TMP1</text>
<text transform="translate(498.6,593.5) rotate(-90)" x="0" y="0" font-size="11" text-anchor="middle" fill="#222" textLength="117" lengthAdjust="spacingAndGlyphs">PFU/gram tissue (log<tspan font-size="7" dy="2.5">10</tspan><tspan dy="-2.5">)</tspan></text>
<g>
<path d="M25.5,92 C20,92.8 15.5,94.5 13,97.5 C11.2,100 12,103.6 15.5,105 C20,106.6 28,104.8 36,103.4 C43,102.2 50,101.8 55.2,102.8" stroke="#bb857c" stroke-width="2.1" fill="none" stroke-linecap="round"/>
<path d="M30,93.6 C29,96.5 30.5,99.2 34,99.4 L43.5,99.4 C44.5,98.2 42.5,96.6 40,96.6 L37,95.4 Z" fill="#c0938a"/>
<path d="M67,91 C67.4,94.2 69.8,97.4 73,98.6 L80.8,99.2 C81.4,98.2 79.8,97.2 77.5,97 L73.4,95.4 L71.5,90.6 Z" fill="#c0938a"/>
<path d="M89.9,79.3 C88.6,77.6 85.5,75 81.5,72.8 C78.6,71.2 76.2,69.7 74.3,68.6 C72.8,67.6 70.6,67.6 69.4,68.6 C68.6,69.3 68.6,70.8 69,72 C66,72.8 63,72.8 61.5,72.5 C56,71.6 51,71.2 47,71.4 C41.5,71.8 36.5,73.2 32.2,76.2 C28.4,79 25.6,82.6 24.4,86.6 C23.8,89.2 24.6,91.6 26.2,92.8 C28.5,94.4 31.5,95 35,95.2 C42,95.6 50,95.7 57.6,95.6 C61.5,95.5 64.5,94.8 67.5,93.6 C70.5,92.3 73.6,90 76.4,87.8 C79.6,85.5 83.2,83.8 86.4,82.4 C88.4,81.6 89.8,80.6 89.9,79.3 Z" fill="#4a4443"/>
<path d="M27,86 C28.5,80.5 33,76.5 39,74.6 C34,78.4 31.2,82.4 31.4,87.2 C31.6,90.6 34,93 38.5,94.4 C33,94.6 28,93.2 26.4,90.4 Z" fill="#403a39"/>
<ellipse cx="68.3" cy="75.5" rx="3.1" ry="4.2" transform="rotate(-15 68.3 75.5)" fill="#c99490"/>
<circle cx="80.3" cy="76.9" r="0.95" fill="#111"/>
<circle cx="89.6" cy="79.6" r="0.9" fill="#d8a0a0"/>
<path d="M88.8,76.5 L92,72 M89.6,77 L92.6,74.2" stroke="#ddd" stroke-width="0.5" fill="none"/>
</g>
<g transform="translate(1.2,489.3)">
<path d="M25.5,92 C20,92.8 15.5,94.5 13,97.5 C11.2,100 12,103.6 15.5,105 C20,106.6 28,104.8 36,103.4 C43,102.2 50,101.8 55.2,102.8" stroke="#bb857c" stroke-width="2.1" fill="none" stroke-linecap="round"/>
<path d="M30,93.6 C29,96.5 30.5,99.2 34,99.4 L43.5,99.4 C44.5,98.2 42.5,96.6 40,96.6 L37,95.4 Z" fill="#c0938a"/>
<path d="M67,91 C67.4,94.2 69.8,97.4 73,98.6 L80.8,99.2 C81.4,98.2 79.8,97.2 77.5,97 L73.4,95.4 L71.5,90.6 Z" fill="#c0938a"/>
<path d="M89.9,79.3 C88.6,77.6 85.5,75 81.5,72.8 C78.6,71.2 76.2,69.7 74.3,68.6 C72.8,67.6 70.6,67.6 69.4,68.6 C68.6,69.3 68.6,70.8 69,72 C66,72.8 63,72.8 61.5,72.5 C56,71.6 51,71.2 47,71.4 C41.5,71.8 36.5,73.2 32.2,76.2 C28.4,79 25.6,82.6 24.4,86.6 C23.8,89.2 24.6,91.6 26.2,92.8 C28.5,94.4 31.5,95 35,95.2 C42,95.6 50,95.7 57.6,95.6 C61.5,95.5 64.5,94.8 67.5,93.6 C70.5,92.3 73.6,90 76.4,87.8 C79.6,85.5 83.2,83.8 86.4,82.4 C88.4,81.6 89.8,80.6 89.9,79.3 Z" fill="#4a4443"/>
<path d="M27,86 C28.5,80.5 33,76.5 39,74.6 C34,78.4 31.2,82.4 31.4,87.2 C31.6,90.6 34,93 38.5,94.4 C33,94.6 28,93.2 26.4,90.4 Z" fill="#403a39"/>
<ellipse cx="68.3" cy="75.5" rx="3.1" ry="4.2" transform="rotate(-15 68.3 75.5)" fill="#c99490"/>
<circle cx="80.3" cy="76.9" r="0.95" fill="#111"/>
<circle cx="89.6" cy="79.6" r="0.9" fill="#d8a0a0"/>
<path d="M88.8,76.5 L92,72 M89.6,77 L92.6,74.2" stroke="#ddd" stroke-width="0.5" fill="none"/>
</g>
<line x1="109.6" y1="86.4" x2="234.2" y2="86.4" stroke="#4a4a4a" stroke-width="1.2"/>
<line x1="109.6" y1="79.3" x2="109.6" y2="93.7" stroke="#4a4a4a" stroke-width="1.2"/>
<line x1="140.6" y1="79.3" x2="140.6" y2="93.7" stroke="#4a4a4a" stroke-width="1.2"/>
<line x1="171.7" y1="79.3" x2="171.7" y2="93.7" stroke="#4a4a4a" stroke-width="1.2"/>
<line x1="202.9" y1="79.3" x2="202.9" y2="93.7" stroke="#4a4a4a" stroke-width="1.2"/>
<line x1="234.2" y1="79.3" x2="234.2" y2="93.7" stroke="#4a4a4a" stroke-width="1.2"/>
<text x="109.6" y="105.2" font-size="10.2" text-anchor="middle" fill="#222" font-weight="normal" >-1</text>
<text x="140.6" y="105.2" font-size="10.2" text-anchor="middle" fill="#222" font-weight="normal" >0</text>
<text x="171.7" y="105.2" font-size="10.2" text-anchor="middle" fill="#222" font-weight="normal" >1</text>
<text x="202.9" y="105.2" font-size="10.2" text-anchor="middle" fill="#222" font-weight="normal" >2</text>
<text x="234.2" y="105.2" font-size="10.2" text-anchor="middle" fill="#222" font-weight="normal" >3</text>
<text x="243.6" y="105.2" font-size="9.6" text-anchor="start" fill="#222" font-weight="normal" >(dpi.)</text>
<circle cx="109.6" cy="112.6" r="4.1" fill="#8e8e8e" stroke="#5a5a5a" stroke-width="0.8"/>
<circle cx="109.6" cy="123.5" r="4.1" fill="#f8b4bf" stroke="#ef8d99" stroke-width="0.8"/>
<circle cx="140.6" cy="112.6" r="4.1" fill="#8e8e8e" stroke="#5a5a5a" stroke-width="0.8"/>
<circle cx="140.6" cy="123.5" r="4.1" fill="#f8b4bf" stroke="#ef8d99" stroke-width="0.8"/>
<circle cx="171.7" cy="112.6" r="4.1" fill="#8e8e8e" stroke="#5a5a5a" stroke-width="0.8"/>
<circle cx="171.7" cy="123.5" r="4.1" fill="#f8b4bf" stroke="#ef8d99" stroke-width="0.8"/>
<circle cx="202.9" cy="112.6" r="4.1" fill="#8e8e8e" stroke="#5a5a5a" stroke-width="0.8"/>
<circle cx="202.9" cy="123.5" r="4.1" fill="#f8b4bf" stroke="#ef8d99" stroke-width="0.8"/>
<circle cx="109.2" cy="142" r="4.1" fill="#8e8e8e" stroke="#5a5a5a" stroke-width="0.8"/>
<text x="121.5" y="145.6" font-size="9.8" text-anchor="start" fill="#444" font-weight="normal" >Veh</text>
<circle cx="151.3" cy="142" r="4.1" fill="#f8b4bf" stroke="#ef8d99" stroke-width="0.8"/>
<text x="162.8" y="145.6" font-size="9.8" text-anchor="start" fill="#f7868f" font-weight="normal" >TMP1</text>
<line x1="104.6" y1="575.8" x2="229.4" y2="575.8" stroke="#4a4a4a" stroke-width="1.2"/>
<line x1="104.6" y1="568.6" x2="104.6" y2="583" stroke="#4a4a4a" stroke-width="1.2"/>
<line x1="135.7" y1="568.6" x2="135.7" y2="583" stroke="#4a4a4a" stroke-width="1.2"/>
<line x1="166.8" y1="568.6" x2="166.8" y2="583" stroke="#4a4a4a" stroke-width="1.2"/>
<line x1="198" y1="568.6" x2="198" y2="583" stroke="#4a4a4a" stroke-width="1.2"/>
<line x1="229.4" y1="568.6" x2="229.4" y2="583" stroke="#4a4a4a" stroke-width="1.2"/>
<text x="104.6" y="594.9" font-size="10.2" text-anchor="middle" fill="#222" font-weight="normal" >-1</text>
<text x="135.7" y="594.9" font-size="10.2" text-anchor="middle" fill="#222" font-weight="normal" >0</text>
<text x="166.8" y="594.9" font-size="10.2" text-anchor="middle" fill="#222" font-weight="normal" >1</text>
<text x="198" y="594.9" font-size="10.2" text-anchor="middle" fill="#222" font-weight="normal" >2</text>
<text x="229.4" y="594.9" font-size="10.2" text-anchor="middle" fill="#222" font-weight="normal" >3</text>
<text x="238.6" y="594.9" font-size="10.6" text-anchor="start" fill="#222" font-weight="normal" textLength="25" lengthAdjust="spacingAndGlyphs">(dpi.)</text>
<circle cx="104.6" cy="602.2" r="4.1" fill="#8e8e8e" stroke="#5a5a5a" stroke-width="0.8"/>
<circle cx="104.6" cy="613" r="4.1" fill="#d49a7f" stroke="#a8623e" stroke-width="0.8"/>
<circle cx="135.7" cy="602.2" r="4.1" fill="#8e8e8e" stroke="#5a5a5a" stroke-width="0.8"/>
<circle cx="135.7" cy="613" r="4.1" fill="#d49a7f" stroke="#a8623e" stroke-width="0.8"/>
<circle cx="166.8" cy="602.2" r="4.1" fill="#8e8e8e" stroke="#5a5a5a" stroke-width="0.8"/>
<circle cx="166.8" cy="613" r="4.1" fill="#d49a7f" stroke="#a8623e" stroke-width="0.8"/>
<circle cx="198" cy="602.2" r="4.1" fill="#8e8e8e" stroke="#5a5a5a" stroke-width="0.8"/>
<circle cx="198" cy="613" r="4.1" fill="#d49a7f" stroke="#a8623e" stroke-width="0.8"/>
<circle cx="104.3" cy="630.2" r="4.1" fill="#8e8e8e" stroke="#5a5a5a" stroke-width="0.8"/>
<text x="113.8" y="633.8000000000001" font-size="9.8" text-anchor="start" fill="#444" font-weight="normal" >Veh</text>
<circle cx="141.5" cy="630.2" r="4.1" fill="#d49a7f" stroke="#a8623e" stroke-width="0.8"/>
<text x="150.3" y="633.8000000000001" font-size="9.8" text-anchor="start" fill="#b0693a" font-weight="normal" >TMP1</text>
<text x="108.2" y="49.7" font-size="11" text-anchor="start" fill="#222" font-weight="normal" >SARS-CoV-1</text>
<text x="198.0" y="49.9" font-size="11.1" text-anchor="start" fill="#222" font-weight="normal" >Tissue harvest</text>
<text x="15.0" y="125.6" font-size="11.2" text-anchor="start" fill="#222" font-weight="normal" >K18-hACE2 mice</text>
<text x="102.2" y="539" font-size="11" fill="#222">MERS-CoV<tspan font-size="6.5" dy="2.8">MA</tspan></text>
<text x="193.5" y="539" font-size="11" text-anchor="start" fill="#222" font-weight="normal" >Tissue harvest</text>
<text x="16.2" y="614.2" font-size="11.2" text-anchor="start" fill="#222" font-weight="normal" >hDPP4-KI mice</text>
<circle cx="234.2" cy="70.6" r="4.4" fill="#fde500" stroke="#e8c800" stroke-width="0.6"/>
<circle cx="229.5" cy="560" r="4.4" fill="#fde500" stroke="#e8c800" stroke-width="0.6"/>
<line x1="146.42" y1="63.90" x2="149.09" y2="64.30" stroke="#eeaab0" stroke-width="1.1"/>
<circle cx="149.09" cy="64.30" r="1.75" fill="#eeaab0"/>
<line x1="144.83" y1="67.32" x2="146.86" y2="69.11" stroke="#eeaab0" stroke-width="1.1"/>
<circle cx="146.86" cy="69.11" r="1.75" fill="#eeaab0"/>
<line x1="141.64" y1="69.34" x2="142.38" y2="71.94" stroke="#eeaab0" stroke-width="1.1"/>
<circle cx="142.38" cy="71.94" r="1.75" fill="#eeaab0"/>
<line x1="137.87" y1="69.31" x2="137.09" y2="71.90" stroke="#eeaab0" stroke-width="1.1"/>
<circle cx="137.09" cy="71.90" r="1.75" fill="#eeaab0"/>
<line x1="134.71" y1="67.25" x2="132.65" y2="69.00" stroke="#eeaab0" stroke-width="1.1"/>
<circle cx="132.65" cy="69.00" r="1.75" fill="#eeaab0"/>
<line x1="133.16" y1="63.81" x2="130.49" y2="64.17" stroke="#eeaab0" stroke-width="1.1"/>
<circle cx="130.49" cy="64.17" r="1.75" fill="#eeaab0"/>
<line x1="133.73" y1="60.07" x2="131.28" y2="58.93" stroke="#eeaab0" stroke-width="1.1"/>
<circle cx="131.28" cy="58.93" r="1.75" fill="#eeaab0"/>
<line x1="136.22" y1="57.24" x2="134.78" y2="54.96" stroke="#eeaab0" stroke-width="1.1"/>
<circle cx="134.78" cy="54.96" r="1.75" fill="#eeaab0"/>
<line x1="139.85" y1="56.20" x2="139.87" y2="53.50" stroke="#eeaab0" stroke-width="1.1"/>
<circle cx="139.87" cy="53.50" r="1.75" fill="#eeaab0"/>
<line x1="143.46" y1="57.29" x2="144.94" y2="55.03" stroke="#eeaab0" stroke-width="1.1"/>
<circle cx="144.94" cy="55.03" r="1.75" fill="#eeaab0"/>
<line x1="145.91" y1="60.16" x2="148.38" y2="59.06" stroke="#eeaab0" stroke-width="1.1"/>
<circle cx="148.38" cy="59.06" r="1.75" fill="#eeaab0"/>
<circle cx="139.8" cy="62.9" r="6.2" fill="#f6f0f6" stroke="#c9484f" stroke-width="1.3"/>
<g fill="none" stroke="#3a68b4" stroke-width="1.2">
<circle cx="137.6" cy="61.4" r="1.6"/><circle cx="141.9" cy="64.5" r="1.6"/><circle cx="139" cy="65.4" r="1.2"/><circle cx="141" cy="60.4" r="1.1"/></g><circle cx="137.4" cy="64.2" r="0.9" fill="#6a8cc8"/>
<path d="M136.5,63 L139,62.5 L141,63.5" stroke="#8a9cc8" stroke-width="0.8" fill="none"/>
<line x1="141.22" y1="556.68" x2="143.89" y2="557.08" stroke="#c98f78" stroke-width="1.1"/>
<circle cx="143.89" cy="557.08" r="1.75" fill="#c98f78"/>
<line x1="139.73" y1="560.09" x2="141.84" y2="561.78" stroke="#c98f78" stroke-width="1.1"/>
<circle cx="141.84" cy="561.78" r="1.75" fill="#c98f78"/>
<line x1="136.73" y1="562.30" x2="137.71" y2="564.82" stroke="#c98f78" stroke-width="1.1"/>
<circle cx="137.71" cy="564.82" r="1.75" fill="#c98f78"/>
<line x1="133.02" y1="562.72" x2="132.62" y2="565.39" stroke="#c98f78" stroke-width="1.1"/>
<circle cx="132.62" cy="565.39" r="1.75" fill="#c98f78"/>
<line x1="129.61" y1="561.23" x2="127.92" y2="563.34" stroke="#c98f78" stroke-width="1.1"/>
<circle cx="127.92" cy="563.34" r="1.75" fill="#c98f78"/>
<line x1="127.40" y1="558.23" x2="124.88" y2="559.21" stroke="#c98f78" stroke-width="1.1"/>
<circle cx="124.88" cy="559.21" r="1.75" fill="#c98f78"/>
<line x1="126.98" y1="554.52" x2="124.31" y2="554.12" stroke="#c98f78" stroke-width="1.1"/>
<circle cx="124.31" cy="554.12" r="1.75" fill="#c98f78"/>
<line x1="128.47" y1="551.11" x2="126.36" y2="549.42" stroke="#c98f78" stroke-width="1.1"/>
<circle cx="126.36" cy="549.42" r="1.75" fill="#c98f78"/>
<line x1="131.47" y1="548.90" x2="130.49" y2="546.38" stroke="#c98f78" stroke-width="1.1"/>
<circle cx="130.49" cy="546.38" r="1.75" fill="#c98f78"/>
<line x1="135.18" y1="548.48" x2="135.58" y2="545.81" stroke="#c98f78" stroke-width="1.1"/>
<circle cx="135.58" cy="545.81" r="1.75" fill="#c98f78"/>
<line x1="138.59" y1="549.97" x2="140.28" y2="547.86" stroke="#c98f78" stroke-width="1.1"/>
<circle cx="140.28" cy="547.86" r="1.75" fill="#c98f78"/>
<line x1="140.80" y1="552.97" x2="143.32" y2="551.99" stroke="#c98f78" stroke-width="1.1"/>
<circle cx="143.32" cy="551.99" r="1.75" fill="#c98f78"/>
<circle cx="134.1" cy="555.6" r="6.7" fill="#cd9078" stroke="#8d4a1e" stroke-width="1.3"/>
<g fill="#b9735a" opacity="0.7"><circle cx="132.5" cy="554" r="1.2"/><circle cx="135.5" cy="557" r="1.3"/><circle cx="136" cy="553.5" r="0.9"/><circle cx="132.5" cy="557.8" r="0.9"/></g>
<line x1="142.8" y1="195.7" x2="377.8" y2="195.7" stroke="#444" stroke-width="1.2"/>
<line x1="427.2" y1="195.7" x2="661.9" y2="195.7" stroke="#444" stroke-width="1.2"/>
<text x="260.3" y="189.0" font-size="11.2" text-anchor="middle" fill="#222" font-weight="normal" >Nasal turbinate</text>
<text x="544.5" y="189.0" font-size="11.2" text-anchor="middle" fill="#222" font-weight="normal" >Lung</text>
<text x="189.8" y="207.8" font-size="11" text-anchor="middle" fill="#222" font-weight="normal" >Veh</text>
<text x="330.8" y="207.8" font-size="11" text-anchor="middle" fill="#222" font-weight="normal" >TMP1</text>
<text x="473.6" y="207.8" font-size="11" text-anchor="middle" fill="#222" font-weight="normal" >Veh</text>
<text x="615.2" y="207.8" font-size="11" text-anchor="middle" fill="#222" font-weight="normal" >TMP1</text>
<line x1="142.8" y1="356.5" x2="377.8" y2="356.5" stroke="#444" stroke-width="1.2"/>
<line x1="427.2" y1="356.5" x2="661.9" y2="356.5" stroke="#444" stroke-width="1.2"/>
<text x="260.3" y="349.4" font-size="11.2" text-anchor="middle" fill="#222" font-weight="normal" >Nasal turbinate</text>
<text x="544.5" y="349.4" font-size="11.2" text-anchor="middle" fill="#222" font-weight="normal" >Lung</text>
<text x="189.8" y="368.3" font-size="11" text-anchor="middle" fill="#222" font-weight="normal" >Veh</text>
<text x="330.8" y="368.3" font-size="11" text-anchor="middle" fill="#222" font-weight="normal" >TMP1</text>
<text x="473.6" y="368.3" font-size="11" text-anchor="middle" fill="#222" font-weight="normal" >Veh</text>
<text x="615.2" y="368.3" font-size="11" text-anchor="middle" fill="#222" font-weight="normal" >TMP1</text>
<defs><clipPath id="ce0"><rect x="119.3" y="212" width="139.1" height="105"/></clipPath>
<clipPath id="cf0"><rect x="119.3" y="370" width="139.1" height="105"/></clipPath>
<clipPath id="ce1"><rect x="261.1" y="212" width="139.1" height="105"/></clipPath>
<clipPath id="cf1"><rect x="261.1" y="370" width="139.1" height="105"/></clipPath>
<clipPath id="ce2"><rect x="403.8" y="212" width="139.1" height="105"/></clipPath>
<clipPath id="cf2"><rect x="403.8" y="370" width="139.1" height="105"/></clipPath>
<clipPath id="ce3"><rect x="545.6" y="212" width="139.1" height="105"/></clipPath>
<clipPath id="cf3"><rect x="545.6" y="370" width="139.1" height="105"/></clipPath></defs>
<g clip-path="url(#ce0)"><rect x="119.3" y="212" width="139.1" height="105" fill="#fdfafa"/>
<g transform="translate(119,212) scale(0.20437)"><path d="M0,0 L410,0 L395,30 L360,80 L320,140 L280,200 L240,260 L200,320 L150,380 L100,430 L50,470 L20,500 L0,519 Z" fill="#d4bad8"/><path d="M440,30 L380,150 L330,260 L280,340 L240,420 L190,500 L170,519 L360,519 L380,480 L400,420 L410,350 L430,250 L440,140 L500,60 L560,40 L575,0 L470,0 Z" fill="#f7eef0"/></g>
<g clip-path="url(#ct_e1)"><rect x="119.3" y="212" width="139.1" height="105" fill="#000" filter="url(#nz1)" opacity="1"/></g>
<g clip-path="url(#ct_e1)"><rect x="119.3" y="212" width="139.1" height="105" fill="#000" filter="url(#nz2)" opacity="1"/></g>
<g clip-path="url(#ct_e1)"><rect x="119.3" y="212" width="139.1" height="105" fill="#000" filter="url(#nz3)" opacity="0.9"/></g>
<g transform="translate(119,212) scale(0.20437)"><path d="M0,0 L250,0 L240,14 L130,22 L105,60 L60,108 L0,125 Z" fill="#dccfe0"/><g fill="#e4d6e8" opacity="0.75"><ellipse cx="150" cy="210" rx="22" ry="45" transform="rotate(20 150 210)"/><ellipse cx="210" cy="160" rx="18" ry="40" transform="rotate(15 210 160)"/><ellipse cx="110" cy="300" rx="18" ry="30"/><ellipse cx="250" cy="90" rx="15" ry="28"/><ellipse cx="60" cy="380" rx="16" ry="25"/><ellipse cx="300" cy="150" rx="12" ry="25"/></g></g>
<g clip-path="url(#cl_e1)"><rect x="119.3" y="212" width="139.1" height="105" fill="#000" filter="url(#nz4)" opacity="1"/></g>
<g clip-path="url(#cm_e1)"><rect x="119.3" y="212" width="139.1" height="105" fill="#000" filter="url(#nz5)" opacity="1"/></g>
<g clip-path="url(#cm_e1)"><rect x="119.3" y="212" width="139.1" height="105" fill="#000" filter="url(#nz6)" opacity="1"/></g>
<g transform="translate(119,212) scale(0.20437)"><path d="M413,0 L398,30 L363,80 L323,140 L283,200 L243,260 L203,320 L153,380 L103,430 L53,470 L23,500 L5,519 L-20,519 L-10,480 L26,454 L79,416 L131,368 L183,311 L225,252 L266,194 L307,136 L348,78 L383,30 L398,0 Z" fill="#e22c64"/><path d="M385,5 L369,33 L334,83 L294,143 L254,203 L214,263 L174,323 L124,383 L74,433 L24,473 L-6,503" stroke="#e04a80" stroke-width="14" fill="none" stroke-dasharray="5,9" opacity="0.75"/><circle cx="378" cy="205" r="10" fill="#e02a5c"/><circle cx="556" cy="45" r="8" fill="#e02a5c"/><circle cx="325" cy="272" r="5" fill="#e8607f"/><circle cx="180" cy="495" r="6" fill="#e8607f"/></g>
<line x1="173.40" y1="280.50" x2="167.66" y2="276.09" stroke="#111" stroke-width="1.3"/><path d="M164.80,273.90 L169.12,274.19 L166.19,278.00 Z" fill="#111"/>
<line x1="208.30" y1="262.30" x2="203.23" y2="257.95" stroke="#111" stroke-width="1.3"/><path d="M200.50,255.60 L204.79,256.13 L201.67,259.77 Z" fill="#111"/>
<line x1="127" y1="311.2" x2="150.5" y2="311.2" stroke="#6a6a6a" stroke-width="1.8"/></g>
<g clip-path="url(#ce1)"><rect x="261.1" y="212" width="139.1" height="105" fill="#fdfafa"/>
<g transform="translate(260,212) scale(0.20585)"><path d="M0,0 L685,0 L685,150 L540,148 L450,152 L350,160 L200,185 L100,200 L0,215 Z" fill="#c8bedc"/><path d="M0,0 L685,0 L685,25 L300,38 L0,45 Z" fill="#f1e8ee"/><path d="M0,45 L300,38 L685,25 L685,75 L300,85 L0,92 Z" fill="#bcb4d6"/><path d="M0,92 L300,85 L685,75 L685,128 L300,135 L0,140 Z" fill="#e6dce6"/><ellipse cx="200" cy="105" rx="28" ry="12" fill="#eed8c4"/><ellipse cx="420" cy="92" rx="24" ry="10" fill="#eed8c4"/><ellipse cx="610" cy="82" rx="24" ry="10" fill="#eed8c4"/><ellipse cx="110" cy="118" rx="30" ry="8" fill="#eed8c8"/><path d="M0,440 L200,425 L400,410 L685,402 L685,520 L0,520 Z" fill="#d6cee4"/></g>
<g clip-path="url(#ct_e2d)"><rect x="261.1" y="212" width="139.1" height="105" fill="#000" filter="url(#nz7)" opacity="1"/></g>
<g clip-path="url(#ct_e2m)"><rect x="261.1" y="212" width="139.1" height="105" fill="#000" filter="url(#nz8)" opacity="1"/></g>
<g clip-path="url(#ct_e2a)"><rect x="261.1" y="212" width="139.1" height="105" fill="#000" filter="url(#nz9)" opacity="1"/></g>
<g clip-path="url(#ct_e2b)"><rect x="261.1" y="212" width="139.1" height="105" fill="#000" filter="url(#nz10)" opacity="1"/></g>
<g clip-path="url(#ct_e2l)"><rect x="261.1" y="212" width="139.1" height="105" fill="#000" filter="url(#nz11)" opacity="1"/></g>
<g transform="translate(260,212) scale(0.20585)"><path d="M0,210 L100,197 L200,182 L350,157 L450,149 L540,145 L685,147" stroke="#e4306a" stroke-width="7" fill="none" stroke-dasharray="70,12,50,20,90,10"/><path d="M0,443 L200,428 L400,413 L685,405" stroke="#e4306a" stroke-width="7" fill="none" stroke-dasharray="10,40,45,25,35,20,60,15"/></g>
<line x1="343.60" y1="255.00" x2="337.77" y2="250.58" stroke="#111" stroke-width="1.3"/><path d="M334.90,248.40 L339.22,248.66 L336.32,252.49 Z" fill="#111"/>
<line x1="378.60" y1="253.40" x2="372.83" y2="249.29" stroke="#111" stroke-width="1.3"/><path d="M369.90,247.20 L374.22,247.33 L371.44,251.24 Z" fill="#111"/>
<line x1="268.8" y1="311.2" x2="292.2" y2="311.2" stroke="#6a6a6a" stroke-width="1.8"/></g>
<g clip-path="url(#ce2)"><rect x="403.8" y="212" width="139.1" height="105" fill="#faf6f6"/>
<g transform="translate(403,212) scale(0.20585)"><path d="M95,80 L160,130" stroke="#efdcc0" stroke-width="24"/><path d="M20,400 L120,385" stroke="#efdcc0" stroke-width="30"/></g>
<g ><rect x="403.8" y="212" width="139.1" height="105" fill="#000" filter="url(#nz12)" opacity="1"/></g>
<g ><rect x="403.8" y="212" width="139.1" height="105" fill="#000" filter="url(#nz13)" opacity="1"/></g>
<g transform="translate(403,212) scale(0.20585)"><g fill="#fbf8fa" opacity="0.9"><ellipse cx="560" cy="235" rx="50" ry="38"/><ellipse cx="600" cy="345" rx="40" ry="55"/><ellipse cx="555" cy="25" rx="40" ry="20"/><ellipse cx="645" cy="145" rx="25" ry="28"/><ellipse cx="480" cy="300" rx="22" ry="20"/><ellipse cx="40" cy="60" rx="25" ry="18"/><ellipse cx="210" cy="160" rx="20" ry="16"/><ellipse cx="120" cy="300" rx="20" ry="15"/><ellipse cx="420" cy="430" rx="28" ry="20"/><ellipse cx="230" cy="330" rx="15" ry="15"/><ellipse cx="60" cy="470" rx="22" ry="16"/></g></g>
<path d="M463,232 L472,233 L476,243 L484,250 L488,262 L487,272 L480,278 L474,283 L470,290 L470,300 L466,304 L461,300 L460,290 L458,282 L455,272 L456,260 L459,250 L462,242 Z" fill="#f2b4cc" opacity="0.6"/>
<g clip-path="url(#cr_e3)"><rect x="403.8" y="212" width="139.1" height="105" fill="#000" filter="url(#nz14)" opacity="1"/></g>
<g clip-path="url(#cr_e3)"><rect x="403.8" y="212" width="139.1" height="105" fill="#000" filter="url(#nz15)" opacity="1"/></g>
<g stroke="#b8124a" stroke-width="1.6" fill="none" stroke-linecap="round" opacity="0.9"><path d="M466,236 L470,248 L468,258"/><path d="M476,250 L481,262 L484,270"/><path d="M460,262 L464,275 L461,286"/><path d="M472,262 L475,276"/><path d="M465,292 L467,301"/></g>
<ellipse cx="481" cy="243.5" rx="3" ry="2.6" fill="#fff"/>
<line x1="492.50" y1="240.60" x2="486.58" y2="243.72" stroke="#111" stroke-width="1.3"/><path d="M483.40,245.40 L485.46,241.60 L487.70,245.84 Z" fill="#111"/>
<line x1="409.2" y1="311.2" x2="428.7" y2="311.2" stroke="#6a6a6a" stroke-width="1.8"/></g>
<g clip-path="url(#ce3)"><rect x="545.6" y="212" width="139.1" height="105" fill="#fcf7f4"/>
<g ><rect x="545.6" y="212" width="139.1" height="105" fill="#000" filter="url(#nz16)" opacity="1"/></g>
<g ><rect x="545.6" y="212" width="139.1" height="105" fill="#000" filter="url(#nz17)" opacity="1"/></g>
<g ><rect x="545.6" y="212" width="139.1" height="105" fill="#000" filter="url(#nz18)" opacity="1"/></g>
<g transform="translate(544,212) scale(0.20585)"><path d="M505,0 L685,0 L685,235 L640,250 L590,232 L550,185 L522,125 L508,60 Z" fill="#fcf7f2" stroke="#8a68b0" stroke-width="9"/><path d="M0,275 L40,305 L110,365 L180,425 L240,475 L290,520 L160,520 L90,465 L30,415 L0,395 Z" fill="#fcf7f2"/><path d="M0,0 L25,0 L30,120 L22,260 L0,280 Z" fill="#fbf5ee"/><g fill="#fcf8f6" opacity="0.85"><ellipse cx="200" cy="260" rx="50" ry="35"/><ellipse cx="350" cy="290" rx="35" ry="35"/><ellipse cx="450" cy="240" rx="25" ry="25"/><ellipse cx="130" cy="120" rx="35" ry="25"/><ellipse cx="300" cy="80" rx="30" ry="20"/><ellipse cx="430" cy="420" rx="30" ry="25"/><ellipse cx="600" cy="420" rx="30" ry="25"/></g><g fill="#fff" stroke="#d0104a" stroke-width="7"><circle cx="290" cy="200" r="16"/><circle cx="325" cy="195" r="14"/><circle cx="305" cy="225" r="12"/><circle cx="335" cy="220" r="9"/></g></g>
<line x1="627.60" y1="247.20" x2="621.19" y2="250.54" stroke="#111" stroke-width="1.3"/><path d="M618.00,252.20 L620.08,248.41 L622.30,252.67 Z" fill="#111"/>
<line x1="551" y1="311.2" x2="570.5" y2="311.2" stroke="#6a6a6a" stroke-width="1.8"/></g>
<g clip-path="url(#cf0)"><rect x="119.3" y="370" width="139.1" height="105" fill="#e8cce6"/>
<path d="M186,432 L258,416 L258,476 L160,476 L176,462 Z" fill="#e6b4da"/>
<g ><rect x="119.3" y="370" width="139.1" height="105" fill="#000" filter="url(#nz19)" opacity="1"/></g>
<g ><rect x="119.3" y="370" width="139.1" height="105" fill="#000" filter="url(#nz20)" opacity="1"/></g>
<g clip-path="url(#cf1p)"><rect x="119.3" y="370" width="139.1" height="105" fill="#000" filter="url(#nz21)" opacity="1"/></g>
<path d="M148.2,374.8 L136.5,388 L127.8,398.2 L121.9,407 L119,411.3" stroke="#9274c4" stroke-width="5" fill="none"/><path d="M148.2,374.8 C151,369.5 164,369 167.2,373.4 L165.7,383.6 L159.9,393.8 L151.1,404 L142.4,412.8 L135,420.1 L129,424" stroke="#9274c4" stroke-width="7" fill="none"/><path d="M127,424 C123,428 122,440 127,446 C131,450 138,448 141,444 C143,438 140,428 134,423 Z" fill="#a48ccc"/><path d="M127,446 L124,462 L121,476 L137,476 L139,462 L141,444 Z" fill="#bca4d6"/><path d="M224,392.7 L228,398 L219.9,410.2 L209.6,426.6 L197.2,443.1 L176.6,461.6 L164.3,472 L160,476" stroke="#8e70c2" stroke-width="5" fill="none"/><path d="M211.6,395.8 L205.5,410.2 L199.3,426.6 L186.9,443.1 L166.3,459.6 L154,471.9 L150,476" stroke="#8e70c2" stroke-width="5" fill="none"/>
<g filter="url(#nz22)" opacity="1"><path d="M148.2,374.8 L136.5,388 L127.8,398.2 L121.9,407 L119,411.3" stroke="#9274c4" stroke-width="5" fill="none"/><path d="M148.2,374.8 C151,369.5 164,369 167.2,373.4 L165.7,383.6 L159.9,393.8 L151.1,404 L142.4,412.8 L135,420.1 L129,424" stroke="#9274c4" stroke-width="7" fill="none"/><path d="M127,424 C123,428 122,440 127,446 C131,450 138,448 141,444 C143,438 140,428 134,423 Z" fill="#a48ccc"/><path d="M127,446 L124,462 L121,476 L137,476 L139,462 L141,444 Z" fill="#bca4d6"/><path d="M224,392.7 L228,398 L219.9,410.2 L209.6,426.6 L197.2,443.1 L176.6,461.6 L164.3,472 L160,476" stroke="#8e70c2" stroke-width="5" fill="none"/><path d="M211.6,395.8 L205.5,410.2 L199.3,426.6 L186.9,443.1 L166.3,459.6 L154,471.9 L150,476" stroke="#8e70c2" stroke-width="5" fill="none"/></g>
<path d="M148.2,374.8 C151,369.5 164,369 167.2,373.4 L165.7,383.6 L159.9,393.8 L151.1,404 L142.4,412.8 L135,420.1 L129,424 L124,432 L125,445 L128,451 L124,462 L121,476 L119,476 L119,411.3 L121.9,407 L127.8,398.2 L136.5,388 Z" fill="#fcf6f8"/>
<path d="M224,392.7 L228,398 L219.9,410.2 L209.6,426.6 L197.2,443.1 L176.6,461.6 L164.3,472 L160,476 L150,476 L154,471.9 L166.3,459.6 L186.9,443.1 L199.3,426.6 L205.5,410.2 L211.6,395.8 Z" fill="#fcf6f8"/>
<path d="M126,414 L133,406 L142,400 L147,398" stroke="#f2a8c6" stroke-width="3" fill="none" opacity="0.7" stroke-dasharray="2,1.2"/>
<ellipse cx="149" cy="394" rx="2.2" ry="1.8" fill="#8a70b8"/>
<path d="M183,398 L200,394 L206,402 L204,416 L196,421 L185,418 L180,408 Z" fill="#eebcd0" opacity="0.85"/>
<ellipse cx="197" cy="410" rx="6" ry="7" fill="#b898cc"/>
<circle cx="190.2" cy="439" r="5" fill="#9a80c4"/>
<circle cx="190.2" cy="439" r="7.6" fill="none" stroke="#111" stroke-width="1.1" stroke-dasharray="1.4,1.4"/>
<path d="M189.80,406.10 L189.80,413.70 M186.51,408.00 L193.09,411.80 M193.09,408.00 L186.51,411.80" stroke="#111" stroke-width="1.25" stroke-linecap="butt"/>
<path d="M211.2,413.8 L214.3,420.9 L208.1,420.3 Z" fill="#111"/>
<line x1="127.2" y1="470.2" x2="146.8" y2="470.2" stroke="#444" stroke-width="1.8"/></g>
<g clip-path="url(#cf1)"><rect x="261.1" y="370" width="139.1" height="105" fill="#f9fbf5"/>
<path d="M261,370 L376,370 L360,376 L345,381 L331,386 L316,400 L302,412.3 L287.6,424.5 L273.3,434.7 L261,441 Z" fill="#e2cce6"/>
<path d="M261,372 L300,373 L340,378 L300,380 L261,381 Z" fill="#d890c8" opacity="0.6"/>
<path d="M265,378 L330,386" stroke="#f0e0f0" stroke-width="1.5"/>
<g clip-path="url(#cf2t)"><rect x="261.1" y="370" width="139.1" height="105" fill="#000" filter="url(#nz23)" opacity="1"/></g>
<ellipse cx="284" cy="400" rx="4" ry="5" fill="#fbf4f8"/>
<path d="M378,371.5 L362,378 L347,383.5 L333.5,388.5 L318.5,402.5 L304.5,414.5 L290,427 L275.5,437 L261,443.5" stroke="#e8a0cc" stroke-width="0.9" fill="none"/>
<path d="M261,461.3 L281.4,445 L301.9,426.6 L322.3,414.3 L342.7,407.2 L359.1,406.1 L363.5,409.5 L361,415 L357.1,418.4 L342.7,424.5 L328.4,432.7 L318.2,442.9 L312.1,453.1 L303.9,461.3 L301.9,476 L261,476 Z" fill="#dcc4e2" stroke="#e8a0cc" stroke-width="0.9"/>
<path d="M275,462 L300,438 L330,424 L352,414" stroke="#e6d4ec" stroke-width="5" fill="none" stroke-linecap="round"/>
<path d="M401,419.4 L383.6,422.5 L363.2,430.7 L353.5,437 L354,440 L363.2,441.9 L383.6,440.9 L401,438.8 Z" fill="none" stroke="#e8a0cc" stroke-width="1.6"/>
<path d="M342.7,476 L351,466 L364,460 L378,456 L384,462 L384,476 Z" fill="none" stroke="#e8a0cc" stroke-width="1.6"/>
<path d="M376,370 L360,376 L345,381 L331,386 L316,400 L302,412.3 L287.6,424.5 L273.3,434.7 L261,441" stroke="#8a6cc0" stroke-width="5.5" fill="none"/><path d="M261,461.3 L281.4,445 L301.9,426.6 L322.3,414.3 L342.7,407.2 L359.1,406.1 L363.5,409.5 L361,415 L357.1,418.4 L342.7,424.5 L328.4,432.7 L318.2,442.9 L312.1,453.1 L303.9,461.3 L301.9,476" stroke="#8a6cc0" stroke-width="5" fill="none" stroke-linejoin="round"/><path d="M401,419.4 L383.6,422.5 L363.2,430.7 L353.5,437 L354,440 L363.2,441.9 L383.6,440.9 L401,438.8 Z" fill="#9078c2"/><path d="M326.4,476 L327,466 L330.5,461.5 L334,465 L334.6,476 Z" fill="#a088c8"/><path d="M342.7,476 L351,466 L364,460 L378,456 L384,462 L384,476 Z" fill="#9a80c4"/><path d="M287,476 L286,462 L291,450 L298,447 L302,456 L300,470 L299,476" stroke="#a088c8" stroke-width="2.5" fill="none"/>
<g filter="url(#nz24)" opacity="1"><path d="M376,370 L360,376 L345,381 L331,386 L316,400 L302,412.3 L287.6,424.5 L273.3,434.7 L261,441" stroke="#8a6cc0" stroke-width="5.5" fill="none"/><path d="M261,461.3 L281.4,445 L301.9,426.6 L322.3,414.3 L342.7,407.2 L359.1,406.1 L363.5,409.5 L361,415 L357.1,418.4 L342.7,424.5 L328.4,432.7 L318.2,442.9 L312.1,453.1 L303.9,461.3 L301.9,476" stroke="#8a6cc0" stroke-width="5" fill="none" stroke-linejoin="round"/><path d="M401,419.4 L383.6,422.5 L363.2,430.7 L353.5,437 L354,440 L363.2,441.9 L383.6,440.9 L401,438.8 Z" fill="#9078c2"/><path d="M326.4,476 L327,466 L330.5,461.5 L334,465 L334.6,476 Z" fill="#a088c8"/><path d="M342.7,476 L351,466 L364,460 L378,456 L384,462 L384,476 Z" fill="#9a80c4"/><path d="M287,476 L286,462 L291,450 L298,447 L302,456 L300,470 L299,476" stroke="#a088c8" stroke-width="2.5" fill="none"/></g>
<path d="M288.3,476 L287.3,463 L291.5,452 L297,450 L300,457 L298.5,470 L297.8,476 Z" fill="#fcf6f8"/>
<path d="M261,455 L285.5,436.8" stroke="#e070a0" stroke-width="0.8"/>
<line x1="269.3" y1="470.2" x2="288.4" y2="470.2" stroke="#444" stroke-width="1.8"/></g>
<g clip-path="url(#cf2)"><rect x="403.8" y="370" width="139.1" height="105" fill="#e2aedc"/>
<path d="M403.6,370 L440,370 L445,395 L430,440 L415,476 L403.6,476 Z" fill="#e8c6e6"/>
<path d="M403.6,430 L470,428 L465,476 L403.6,476 Z" fill="#e8c4e6"/>
<path d="M499.7,369 L510,375.2 L518.3,381.4 L526.5,388.6 L530.6,393.7 L535.8,401.9 L537.8,410.2 L538.9,420.5 L537.8,425.6 L543.2,424 L543.2,369 Z" fill="#f6e8f4"/>
<g clip-path="url(#cf3l)"><rect x="403.8" y="370" width="139.1" height="105" fill="#000" filter="url(#nz25)" opacity="1"/></g>
<g clip-path="url(#cf3r)"><rect x="403.8" y="370" width="139.1" height="105" fill="#000" filter="url(#nz26)" opacity="1"/></g>
<g ><rect x="403.8" y="370" width="139.1" height="105" fill="#000" filter="url(#nz27)" opacity="1"/></g>
<g ><rect x="403.8" y="370" width="139.1" height="105" fill="#000" filter="url(#nz28)" opacity="1"/></g>
<g ><rect x="403.8" y="370" width="139.1" height="105" fill="#000" filter="url(#nz29)" opacity="1"/></g>
<path d="M447,369 L458,369 L464,380 L462,392 L455,394 L449,384 Z" fill="#f06890" opacity="0.75"/>
<path d="M502,438 L512,440 L520,450 L518,456 L508,452 Z" fill="#f07aa0" opacity="0.5"/>
<path d="M478.6,430.2 L474,450 L468,468 L464.3,476" stroke="#fbf2f8" stroke-width="3" fill="none"/>
<path d="M458,372 C462,380 470,390 478,398 C484,410 488,420 500,430" stroke="#f080a8" stroke-width="1" fill="none" opacity="0.7"/>
<path d="M464.8,369 L473,379.3 L481.2,389.6 L487.4,399.9 L493.6,410.2 L501.8,420.5 L510,426.6 L515.2,429.1 L520.3,423.5 L524.5,422.9 L528.6,425.6 L534.7,430.8 L537.8,425.6 L538.9,420.5 L537.8,410.2 L535.8,401.9 L530.6,393.7 L526.5,388.6 L518.3,381.4 L510,375.2 L499.7,369 Z" fill="#f8fcfb" stroke="#b450aa" stroke-width="1.8"/>
<path d="M437,375 L443,371 L447,385 L441,390 Z" fill="#a050b0" opacity="0.6"/>
<path d="M451,398 L458,396 L460,404 L453,406 Z" fill="#9850b0" opacity="0.6"/>
<circle cx="441" cy="421" r="2.8" fill="#fdf8fb"/>
<path d="M460.40,387.40 L460.40,395.00 M457.11,389.30 L463.69,393.10 M463.69,389.30 L457.11,393.10" stroke="#111" stroke-width="1.25" stroke-linecap="butt"/>
<path d="M446.6,417.6 L449.2,410.2 L454.2,413.6 Z" fill="#fff" stroke="#222" stroke-width="0.8"/>
<path d="M427.6,424 L430.2,416.6 L435.2,420 Z" fill="#fff" stroke="#222" stroke-width="0.8"/>
<path d="M490.8,437 V446 M488.1,440 H493.5" stroke="#111" stroke-width="0.9"/>
<line x1="409.2" y1="470.2" x2="428.7" y2="470.2" stroke="#444" stroke-width="1.8"/></g>
<g clip-path="url(#cf3)"><rect x="545.6" y="370" width="139.1" height="105" fill="#f6e6f2"/>
<path d="M590,385 L640,380 L650,420 L620,425 L595,410 Z" fill="#eab8e0"/>
<path d="M640,440 L685,430 L685,476 L630,476 Z" fill="#eec0e4"/>
<g ><rect x="545.6" y="370" width="139.1" height="105" fill="#000" filter="url(#nz30)" opacity="1"/></g>
<g ><rect x="545.6" y="370" width="139.1" height="105" fill="#000" filter="url(#nz31)" opacity="1"/></g>
<g ><rect x="545.6" y="370" width="139.1" height="105" fill="#000" filter="url(#nz32)" opacity="1"/></g>
<path d="M560,370 L574,370 L576,378 L565,381 Z" fill="#d070b8" opacity="0.6"/>
<path d="M545.5,374 L551,374 L551,381 L545.5,382 Z" fill="#f06090" opacity="0.8"/>
<path d="M545.5,392 L548,392 L548,400 L545.5,400 Z" fill="#f06090" opacity="0.8"/>
<path d="M661,370 L685,370 L685,398 L676,388 L666,378 Z" fill="#fcf7fa"/>
<path d="M553.2,388.4 L560.3,386.3 L570.5,381.2 L580.8,378.2 L591,376.1 L599.2,374.1 L602.2,376.1 L615,375.5 L622.2,372.1 L622.2,377 L615,379.7 L602.2,382.3 L594,384.3 L587.9,386.3 L585.9,390.4 L575.7,392.5 L565.4,399.6 L557.3,402.7 L553.2,400.7 L552.2,394.5 Z" fill="#fdf8fb" stroke="#c060b0" stroke-width="1.6"/>
<g fill="#fdf8fb" stroke="#d070b8" stroke-width="1.2"><ellipse cx="620.5" cy="418.5" rx="5" ry="3.5" transform="rotate(25 620.5 418.5)"/><ellipse cx="655" cy="423" rx="5" ry="2.5"/></g>
<g fill="#fdf8fb"><ellipse cx="598" cy="446" rx="4.5" ry="7.5"/><path d="M619,455 L636,452 L648,453 L647,460 L631,461 L620,460 Z"/><ellipse cx="557" cy="422" rx="4" ry="6"/><ellipse cx="676" cy="437" rx="4" ry="4"/></g>
<path d="M621.2,389.2 V398.2 M618.5,392.2 H623.9" stroke="#111" stroke-width="0.9"/>
<line x1="553.3" y1="470.2" x2="572.4" y2="470.2" stroke="#444" stroke-width="1.8"/></g>
<defs><clipPath id="ct_e1"><path transform="translate(119,212) scale(0.20437)" d="M0,0 L410,0 L395,30 L360,80 L320,140 L280,200 L240,260 L200,320 L150,380 L100,430 L50,470 L20,500 L0,519 Z"/></clipPath>
<clipPath id="cl_e1"><path transform="translate(119,212) scale(0.20437)" d="M0,0 L250,0 L240,14 L130,22 L105,60 L60,108 L0,125 Z"/></clipPath>
<clipPath id="cm_e1"><path transform="translate(119,212) scale(0.20437)" d="M440,30 L380,150 L330,260 L280,340 L240,420 L190,500 L170,519 L360,519 L380,480 L400,420 L410,350 L430,250 L440,140 L500,60 L560,40 L575,0 L470,0 Z"/></clipPath>
<filter id="nz1" x="0" y="0" width="100%" height="100%" color-interpolation-filters="sRGB"><feTurbulence type="fractalNoise" baseFrequency="0.45" numOctaves="1" seed="875" result="n"/><feColorMatrix in="n" type="matrix" values="0 0 0 0 0.604 0 0 0 0 0.518 0 0 0 0 0.737 -14 0 0 0 6.6"/><feGaussianBlur stdDeviation="0.6"/><feComposite in2="SourceGraphic" operator="in"/></filter>
<filter id="nz2" x="0" y="0" width="100%" height="100%" color-interpolation-filters="sRGB"><feTurbulence type="fractalNoise" baseFrequency="0.45" numOctaves="1" seed="843"/><feColorMatrix type="matrix" values="1 0 0 0 0 0 1 0 0 0 0 0 1 0 0 0 0 0 0 1" result="n1"/><feTurbulence type="fractalNoise" baseFrequency="0.05" numOctaves="2" seed="944"/><feColorMatrix type="matrix" values="1 0 0 0 0 0 1 0 0 0 0 0 1 0 0 0 0 0 0 1" result="n2"/><feComposite in="n1" in2="n2" operator="arithmetic" k1="0" k2="1" k3="0.4" k4="-0.2" result="n"/><feColorMatrix in="n" type="matrix" values="0 0 0 0 0.290 0 0 0 0 0.247 0 0 0 0 0.549 -14 0 0 0 7.8"/><feGaussianBlur stdDeviation="0.6"/><feComposite in2="SourceGraphic" operator="in"/></filter>
<filter id="nz3" x="0" y="0" width="100%" height="100%" color-interpolation-filters="sRGB"><feTurbulence type="fractalNoise" baseFrequency="0.06" numOctaves="2" seed="22" result="n"/><feComponentTransfer in="n"><feFuncR type="table" tableValues="0 0 0 0 0 0 0 0 0 0 0.9 0 0 0 0 0 0 0 0 0 0"/></feComponentTransfer><feColorMatrix type="matrix" values="0 0 0 0 0.933 0 0 0 0 0.902 0 0 0 0 0.949 1 0 0 0 0"/><feGaussianBlur stdDeviation="0.4"/><feComposite in2="SourceGraphic" operator="in"/></filter>
<filter id="nz4" x="0" y="0" width="100%" height="100%" color-interpolation-filters="sRGB"><feTurbulence type="fractalNoise" baseFrequency="0.45" numOctaves="1" seed="398" result="n"/><feColorMatrix in="n" type="matrix" values="0 0 0 0 0.290 0 0 0 0 0.267 0 0 0 0 0.627 -14 0 0 0 5.4"/><feGaussianBlur stdDeviation="0.6"/><feComposite in2="SourceGraphic" operator="in"/></filter>
<filter id="nz5" x="0" y="0" width="100%" height="100%" color-interpolation-filters="sRGB"><feTurbulence type="fractalNoise" baseFrequency="0.45" numOctaves="1" seed="152" result="n"/><feColorMatrix in="n" type="matrix" values="0 0 0 0 0.878 0 0 0 0 0.471 0 0 0 0 0.565 -14 0 0 0 4.4"/><feGaussianBlur stdDeviation="0.6"/><feComposite in2="SourceGraphic" operator="in"/></filter>
<filter id="nz6" x="0" y="0" width="100%" height="100%" color-interpolation-filters="sRGB"><feTurbulence type="fractalNoise" baseFrequency="0.45" numOctaves="1" seed="574" result="n"/><feColorMatrix in="n" type="matrix" values="0 0 0 0 0.659 0 0 0 0 0.643 0 0 0 0 0.816 -14 0 0 0 4.4"/><feGaussianBlur stdDeviation="0.6"/><feComposite in2="SourceGraphic" operator="in"/></filter>
<clipPath id="ct_e2a"><path transform="translate(260,212) scale(0.20585)" d="M0,0 L685,0 L685,150 L540,148 L450,152 L350,160 L200,185 L100,200 L0,215 Z"/></clipPath>
<clipPath id="ct_e2d"><path transform="translate(260,212) scale(0.20585)" d="M0,45 L300,38 L685,25 L685,75 L300,85 L0,92 Z"/></clipPath>
<clipPath id="ct_e2m"><path transform="translate(260,212) scale(0.20585)" d="M0,92 L300,85 L685,75 L685,128 L300,135 L0,140 Z"/></clipPath>
<clipPath id="ct_e2b"><path transform="translate(260,212) scale(0.20585)" d="M0,440 L200,425 L400,410 L685,402 L685,520 L0,520 Z"/></clipPath>
<clipPath id="ct_e2l"><path transform="translate(260,212) scale(0.20585)" d="M0,215 L100,200 L200,185 L350,160 L450,152 L540,148 L685,150 L685,402 L400,410 L200,425 L0,440 Z"/></clipPath>
<filter id="nz7" x="0" y="0" width="100%" height="100%" color-interpolation-filters="sRGB"><feTurbulence type="fractalNoise" baseFrequency="0.45" numOctaves="1" seed="51" result="n"/><feColorMatrix in="n" type="matrix" values="0 0 0 0 0.361 0 0 0 0 0.337 0 0 0 0 0.635 -14 0 0 0 5.8"/><feGaussianBlur stdDeviation="0.6"/><feComposite in2="SourceGraphic" operator="in"/></filter>
<filter id="nz8" x="0" y="0" width="100%" height="100%" color-interpolation-filters="sRGB"><feTurbulence type="fractalNoise" baseFrequency="0.45" numOctaves="1" seed="35" result="n"/><feColorMatrix in="n" type="matrix" values="0 0 0 0 0.337 0 0 0 0 0.314 0 0 0 0 0.643 -14 0 0 0 5.2"/><feGaussianBlur stdDeviation="0.6"/><feComposite in2="SourceGraphic" operator="in"/></filter>
<filter id="nz9" x="0" y="0" width="100%" height="100%" color-interpolation-filters="sRGB"><feTurbulence type="fractalNoise" baseFrequency="0.45" numOctaves="1" seed="50" result="n"/><feColorMatrix in="n" type="matrix" values="0 0 0 0 0.478 0 0 0 0 0.455 0 0 0 0 0.722 -14 0 0 0 4.9"/><feGaussianBlur stdDeviation="0.6"/><feComposite in2="SourceGraphic" operator="in"/></filter>
<filter id="nz10" x="0" y="0" width="100%" height="100%" color-interpolation-filters="sRGB"><feTurbulence type="fractalNoise" baseFrequency="0.45" numOctaves="1" seed="191" result="n"/><feColorMatrix in="n" type="matrix" values="0 0 0 0 0.400 0 0 0 0 0.376 0 0 0 0 0.667 -14 0 0 0 5.0"/><feGaussianBlur stdDeviation="0.6"/><feComposite in2="SourceGraphic" operator="in"/></filter>
<filter id="nz11" x="0" y="0" width="100%" height="100%" color-interpolation-filters="sRGB"><feTurbulence type="fractalNoise" baseFrequency="0.45" numOctaves="1" seed="463" result="n"/><feColorMatrix in="n" type="matrix" values="0 0 0 0 0.918 0 0 0 0 0.722 0 0 0 0 0.761 -14 0 0 0 3.8"/><feGaussianBlur stdDeviation="0.6"/><feComposite in2="SourceGraphic" operator="in"/></filter>
<clipPath id="cr_e3"><path transform="translate(0,0)" d="M463,232 L472,233 L476,243 L484,250 L488,262 L487,272 L480,278 L474,283 L470,290 L470,300 L466,304 L461,300 L460,290 L458,282 L455,272 L456,260 L459,250 L462,242 Z"/></clipPath>
<filter id="nz12" x="0" y="0" width="100%" height="100%" color-interpolation-filters="sRGB"><feTurbulence type="fractalNoise" baseFrequency="0.45" numOctaves="1" seed="183"/><feColorMatrix type="matrix" values="1 0 0 0 0 0 1 0 0 0 0 0 1 0 0 0 0 0 0 1" result="n1"/><feTurbulence type="fractalNoise" baseFrequency="0.05" numOctaves="2" seed="284"/><feColorMatrix type="matrix" values="1 0 0 0 0 0 1 0 0 0 0 0 1 0 0 0 0 0 0 1" result="n2"/><feComposite in="n1" in2="n2" operator="arithmetic" k1="0" k2="1" k3="0.35" k4="-0.175" result="n"/><feColorMatrix in="n" type="matrix" values="0 0 0 0 0.698 0 0 0 0 0.682 0 0 0 0 0.847 -14 0 0 0 5.6"/><feGaussianBlur stdDeviation="0.6"/><feComposite in2="SourceGraphic" operator="in"/></filter>
<filter id="nz13" x="0" y="0" width="100%" height="100%" color-interpolation-filters="sRGB"><feTurbulence type="fractalNoise" baseFrequency="0.45" numOctaves="1" seed="976"/><feColorMatrix type="matrix" values="1 0 0 0 0 0 1 0 0 0 0 0 1 0 0 0 0 0 0 1" result="n1"/><feTurbulence type="fractalNoise" baseFrequency="0.05" numOctaves="2" seed="1077"/><feColorMatrix type="matrix" values="1 0 0 0 0 0 1 0 0 0 0 0 1 0 0 0 0 0 0 1" result="n2"/><feComposite in="n1" in2="n2" operator="arithmetic" k1="0" k2="1" k3="0.35" k4="-0.175" result="n"/><feColorMatrix in="n" type="matrix" values="0 0 0 0 0.408 0 0 0 0 0.392 0 0 0 0 0.675 -14 0 0 0 6.0"/><feGaussianBlur stdDeviation="0.6"/><feComposite in2="SourceGraphic" operator="in"/></filter>
<filter id="nz14" x="0" y="0" width="100%" height="100%" color-interpolation-filters="sRGB"><feTurbulence type="fractalNoise" baseFrequency="0.45" numOctaves="1" seed="558"/><feColorMatrix type="matrix" values="1 0 0 0 0 0 1 0 0 0 0 0 1 0 0 0 0 0 0 1" result="n1"/><feTurbulence type="fractalNoise" baseFrequency="0.05" numOctaves="2" seed="659"/><feColorMatrix type="matrix" values="1 0 0 0 0 0 1 0 0 0 0 0 1 0 0 0 0 0 0 1" result="n2"/><feComposite in="n1" in2="n2" operator="arithmetic" k1="0" k2="1" k3="0.6" k4="-0.3" result="n"/><feColorMatrix in="n" type="matrix" values="0 0 0 0 0.831 0 0 0 0 0.094 0 0 0 0 0.353 -14 0 0 0 6.5"/><feGaussianBlur stdDeviation="0.6"/><feComposite in2="SourceGraphic" operator="in"/></filter>
<filter id="nz15" x="0" y="0" width="100%" height="100%" color-interpolation-filters="sRGB"><feTurbulence type="fractalNoise" baseFrequency="0.45" numOctaves="1" seed="493" result="n"/><feColorMatrix in="n" type="matrix" values="0 0 0 0 0.541 0 0 0 0 0.039 0 0 0 0 0.212 -14 0 0 0 5.6"/><feGaussianBlur stdDeviation="0.6"/><feComposite in2="SourceGraphic" operator="in"/></filter>
<filter id="nz16" x="0" y="0" width="100%" height="100%" color-interpolation-filters="sRGB"><feTurbulence type="fractalNoise" baseFrequency="0.45" numOctaves="1" seed="401"/><feColorMatrix type="matrix" values="1 0 0 0 0 0 1 0 0 0 0 0 1 0 0 0 0 0 0 1" result="n1"/><feTurbulence type="fractalNoise" baseFrequency="0.05" numOctaves="2" seed="502"/><feColorMatrix type="matrix" values="1 0 0 0 0 0 1 0 0 0 0 0 1 0 0 0 0 0 0 1" result="n2"/><feComposite in="n1" in2="n2" operator="arithmetic" k1="0" k2="1" k3="0.4" k4="-0.2" result="n"/><feColorMatrix in="n" type="matrix" values="0 0 0 0 0.925 0 0 0 0 0.831 0 0 0 0 0.737 -14 0 0 0 5.4"/><feGaussianBlur stdDeviation="0.6"/><feComposite in2="SourceGraphic" operator="in"/></filter>
<filter id="nz17" x="0" y="0" width="100%" height="100%" color-interpolation-filters="sRGB"><feTurbulence type="fractalNoise" baseFrequency="0.13" numOctaves="2" seed="120" result="n"/><feComponentTransfer in="n"><feFuncR type="table" tableValues="0 0 0 0 0 0 0.85 0 0 0 0 0 0"/></feComponentTransfer><feColorMatrix type="matrix" values="0 0 0 0 0.863 0 0 0 0 0.737 0 0 0 0 0.847 1 0 0 0 0"/><feGaussianBlur stdDeviation="0.4"/><feComposite in2="SourceGraphic" operator="in"/></filter>
<filter id="nz18" x="0" y="0" width="100%" height="100%" color-interpolation-filters="sRGB"><feTurbulence type="fractalNoise" baseFrequency="0.55" numOctaves="1" seed="789"/><feColorMatrix type="matrix" values="1 0 0 0 0 0 1 0 0 0 0 0 1 0 0 0 0 0 0 1" result="n1"/><feTurbulence type="fractalNoise" baseFrequency="0.05" numOctaves="2" seed="890"/><feColorMatrix type="matrix" values="1 0 0 0 0 0 1 0 0 0 0 0 1 0 0 0 0 0 0 1" result="n2"/><feComposite in="n1" in2="n2" operator="arithmetic" k1="0" k2="1" k3="0.3" k4="-0.15" result="n"/><feColorMatrix in="n" type="matrix" values="0 0 0 0 0.541 0 0 0 0 0.392 0 0 0 0 0.706 -14 0 0 0 5.9"/><feGaussianBlur stdDeviation="0.6"/><feComposite in2="SourceGraphic" operator="in"/></filter>
<clipPath id="cf1p"><path transform="translate(0,0)" d="M186,432 L258,416 L258,476 L160,476 L176,462 Z"/></clipPath>
<filter id="nz19" x="0" y="0" width="100%" height="100%" color-interpolation-filters="sRGB"><feTurbulence type="fractalNoise" baseFrequency="0.1" numOctaves="2" seed="134" result="n"/><feComponentTransfer in="n"><feFuncR type="table" tableValues="0 0 0 0 0.7 0 0 0 0"/></feComponentTransfer><feColorMatrix type="matrix" values="0 0 0 0 0.784 0 0 0 0 0.659 0 0 0 0 0.847 1 0 0 0 0"/><feGaussianBlur stdDeviation="0.4"/><feComposite in2="SourceGraphic" operator="in"/></filter>
<filter id="nz20" x="0" y="0" width="100%" height="100%" color-interpolation-filters="sRGB"><feTurbulence type="fractalNoise" baseFrequency="0.45" numOctaves="1" seed="703"/><feColorMatrix type="matrix" values="1 0 0 0 0 0 1 0 0 0 0 0 1 0 0 0 0 0 0 1" result="n1"/><feTurbulence type="fractalNoise" baseFrequency="0.05" numOctaves="2" seed="804"/><feColorMatrix type="matrix" values="1 0 0 0 0 0 1 0 0 0 0 0 1 0 0 0 0 0 0 1" result="n2"/><feComposite in="n1" in2="n2" operator="arithmetic" k1="0" k2="1" k3="0.3" k4="-0.15" result="n"/><feColorMatrix in="n" type="matrix" values="0 0 0 0 0.690 0 0 0 0 0.580 0 0 0 0 0.816 -14 0 0 0 4.6"/><feGaussianBlur stdDeviation="0.6"/><feComposite in2="SourceGraphic" operator="in"/></filter>
<filter id="nz21" x="0" y="0" width="100%" height="100%" color-interpolation-filters="sRGB"><feTurbulence type="fractalNoise" baseFrequency="0.45" numOctaves="1" seed="237" result="n"/><feColorMatrix in="n" type="matrix" values="0 0 0 0 0.839 0 0 0 0 0.518 0 0 0 0 0.753 -14 0 0 0 5.4"/><feGaussianBlur stdDeviation="0.6"/><feComposite in2="SourceGraphic" operator="in"/></filter>
<filter id="nz22" color-interpolation-filters="sRGB"><feTurbulence type="fractalNoise" baseFrequency="0.45" numOctaves="1" seed="155"/><feColorMatrix type="matrix" values="1 0 0 0 0 0 1 0 0 0 0 0 1 0 0 0 0 0 0 1" result="n1"/><feTurbulence type="fractalNoise" baseFrequency="0.05" numOctaves="2" seed="256"/><feColorMatrix type="matrix" values="1 0 0 0 0 0 1 0 0 0 0 0 1 0 0 0 0 0 0 1" result="n2"/><feComposite in="n1" in2="n2" operator="arithmetic" k1="0" k2="1" k3="0.3" k4="-0.15" result="n"/><feColorMatrix in="n" type="matrix" values="0 0 0 0 0.353 0 0 0 0 0.267 0 0 0 0 0.596 -14 0 0 0 6.0"/><feGaussianBlur stdDeviation="0.5"/><feComposite in2="SourceAlpha" operator="in"/></filter>
<clipPath id="cf2t"><path transform="translate(0,0)" d="M261,370 L376,370 L360,376 L345,381 L331,386 L316,400 L302,412.3 L287.6,424.5 L273.3,434.7 L261,441 Z"/></clipPath>
<filter id="nz23" x="0" y="0" width="100%" height="100%" color-interpolation-filters="sRGB"><feTurbulence type="fractalNoise" baseFrequency="0.45" numOctaves="1" seed="651"/><feColorMatrix type="matrix" values="1 0 0 0 0 0 1 0 0 0 0 0 1 0 0 0 0 0 0 1" result="n1"/><feTurbulence type="fractalNoise" baseFrequency="0.05" numOctaves="2" seed="752"/><feColorMatrix type="matrix" values="1 0 0 0 0 0 1 0 0 0 0 0 1 0 0 0 0 0 0 1" result="n2"/><feComposite in="n1" in2="n2" operator="arithmetic" k1="0" k2="1" k3="0.3" k4="-0.15" result="n"/><feColorMatrix in="n" type="matrix" values="0 0 0 0 0.659 0 0 0 0 0.565 0 0 0 0 0.800 -14 0 0 0 4.6"/><feGaussianBlur stdDeviation="0.6"/><feComposite in2="SourceGraphic" operator="in"/></filter>
<filter id="nz24" color-interpolation-filters="sRGB"><feTurbulence type="fractalNoise" baseFrequency="0.45" numOctaves="1" seed="169"/><feColorMatrix type="matrix" values="1 0 0 0 0 0 1 0 0 0 0 0 1 0 0 0 0 0 0 1" result="n1"/><feTurbulence type="fractalNoise" baseFrequency="0.05" numOctaves="2" seed="270"/><feColorMatrix type="matrix" values="1 0 0 0 0 0 1 0 0 0 0 0 1 0 0 0 0 0 0 1" result="n2"/><feComposite in="n1" in2="n2" operator="arithmetic" k1="0" k2="1" k3="0.3" k4="-0.15" result="n"/><feColorMatrix in="n" type="matrix" values="0 0 0 0 0.353 0 0 0 0 0.267 0 0 0 0 0.596 -14 0 0 0 6.2"/><feGaussianBlur stdDeviation="0.5"/><feComposite in2="SourceAlpha" operator="in"/></filter>
<clipPath id="cf3r"><path transform="translate(0,0)" d="M499.7,369 L510,375.2 L518.3,381.4 L526.5,388.6 L530.6,393.7 L535.8,401.9 L537.8,410.2 L538.9,420.5 L537.8,425.6 L543.2,424 L543.2,369 Z"/></clipPath>
<clipPath id="cf3l"><path transform="translate(0,0)" d="M403.6,370 L440,370 L445,395 L430,440 L415,476 L403.6,476 Z"/></clipPath>
<filter id="nz25" x="0" y="0" width="100%" height="100%" color-interpolation-filters="sRGB"><feTurbulence type="fractalNoise" baseFrequency="0.25" numOctaves="1" seed="903"/><feColorMatrix type="matrix" values="1 0 0 0 0 0 1 0 0 0 0 0 1 0 0 0 0 0 0 1" result="n1"/><feTurbulence type="fractalNoise" baseFrequency="0.05" numOctaves="2" seed="1004"/><feColorMatrix type="matrix" values="1 0 0 0 0 0 1 0 0 0 0 0 1 0 0 0 0 0 0 1" result="n2"/><feComposite in="n1" in2="n2" operator="arithmetic" k1="0" k2="1" k3="0.4" k4="-0.2" result="n"/><feColorMatrix in="n" type="matrix" values="0 0 0 0 0.984 0 0 0 0 0.953 0 0 0 0 0.980 -14 0 0 0 5.4"/><feGaussianBlur stdDeviation="0.8"/><feComposite in2="SourceGraphic" operator="in"/></filter>
<filter id="nz26" x="0" y="0" width="100%" height="100%" color-interpolation-filters="sRGB"><feTurbulence type="fractalNoise" baseFrequency="0.16" numOctaves="2" seed="183" result="n"/><feComponentTransfer in="n"><feFuncR type="table" tableValues="0 0 0 0 0 0 0.9 0 0 0 0 0 0"/></feComponentTransfer><feColorMatrix type="matrix" values="0 0 0 0 0.847 0 0 0 0 0.565 0 0 0 0 0.816 1 0 0 0 0"/><feGaussianBlur stdDeviation="0.4"/><feComposite in2="SourceGraphic" operator="in"/></filter>
<filter id="nz27" x="0" y="0" width="100%" height="100%" color-interpolation-filters="sRGB"><feTurbulence type="fractalNoise" baseFrequency="0.25" numOctaves="1" seed="412"/><feColorMatrix type="matrix" values="1 0 0 0 0 0 1 0 0 0 0 0 1 0 0 0 0 0 0 1" result="n1"/><feTurbulence type="fractalNoise" baseFrequency="0.05" numOctaves="2" seed="513"/><feColorMatrix type="matrix" values="1 0 0 0 0 0 1 0 0 0 0 0 1 0 0 0 0 0 0 1" result="n2"/><feComposite in="n1" in2="n2" operator="arithmetic" k1="0" k2="1" k3="0.4" k4="-0.2" result="n"/><feColorMatrix in="n" type="matrix" values="0 0 0 0 0.984 0 0 0 0 0.953 0 0 0 0 0.980 -14 0 0 0 5.2"/><feGaussianBlur stdDeviation="0.8"/><feComposite in2="SourceGraphic" operator="in"/></filter>
<filter id="nz28" x="0" y="0" width="100%" height="100%" color-interpolation-filters="sRGB"><feTurbulence type="fractalNoise" baseFrequency="0.45" numOctaves="1" seed="715"/><feColorMatrix type="matrix" values="1 0 0 0 0 0 1 0 0 0 0 0 1 0 0 0 0 0 0 1" result="n1"/><feTurbulence type="fractalNoise" baseFrequency="0.05" numOctaves="2" seed="816"/><feColorMatrix type="matrix" values="1 0 0 0 0 0 1 0 0 0 0 0 1 0 0 0 0 0 0 1" result="n2"/><feComposite in="n1" in2="n2" operator="arithmetic" k1="0" k2="1" k3="0.4" k4="-0.2" result="n"/><feColorMatrix in="n" type="matrix" values="0 0 0 0 0.690 0 0 0 0 0.439 0 0 0 0 0.769 -14 0 0 0 5.0"/><feGaussianBlur stdDeviation="0.6"/><feComposite in2="SourceGraphic" operator="in"/></filter>
<filter id="nz29" x="0" y="0" width="100%" height="100%" color-interpolation-filters="sRGB"><feTurbulence type="fractalNoise" baseFrequency="0.45" numOctaves="1" seed="747"/><feColorMatrix type="matrix" values="1 0 0 0 0 0 1 0 0 0 0 0 1 0 0 0 0 0 0 1" result="n1"/><feTurbulence type="fractalNoise" baseFrequency="0.05" numOctaves="2" seed="848"/><feColorMatrix type="matrix" values="1 0 0 0 0 0 1 0 0 0 0 0 1 0 0 0 0 0 0 1" result="n2"/><feComposite in="n1" in2="n2" operator="arithmetic" k1="0" k2="1" k3="0.4" k4="-0.2" result="n"/><feColorMatrix in="n" type="matrix" values="0 0 0 0 0.878 0 0 0 0 0.502 0 0 0 0 0.722 -14 0 0 0 4.8"/><feGaussianBlur stdDeviation="0.6"/><feComposite in2="SourceGraphic" operator="in"/></filter>
<filter id="nz30" x="0" y="0" width="100%" height="100%" color-interpolation-filters="sRGB"><feTurbulence type="fractalNoise" baseFrequency="0.17" numOctaves="2" seed="211" result="n"/><feComponentTransfer in="n"><feFuncR type="table" tableValues="0 0 0 0 0 0 0.95 0 0 0 0 0 0"/></feComponentTransfer><feColorMatrix type="matrix" values="0 0 0 0 0.847 0 0 0 0 0.549 0 0 0 0 0.784 1 0 0 0 0"/><feGaussianBlur stdDeviation="0.4"/><feComposite in2="SourceGraphic" operator="in"/></filter>
<filter id="nz31" x="0" y="0" width="100%" height="100%" color-interpolation-filters="sRGB"><feTurbulence type="fractalNoise" baseFrequency="0.45" numOctaves="1" seed="242"/><feColorMatrix type="matrix" values="1 0 0 0 0 0 1 0 0 0 0 0 1 0 0 0 0 0 0 1" result="n1"/><feTurbulence type="fractalNoise" baseFrequency="0.05" numOctaves="2" seed="343"/><feColorMatrix type="matrix" values="1 0 0 0 0 0 1 0 0 0 0 0 1 0 0 0 0 0 0 1" result="n2"/><feComposite in="n1" in2="n2" operator="arithmetic" k1="0" k2="1" k3="0.8" k4="-0.4" result="n"/><feColorMatrix in="n" type="matrix" values="0 0 0 0 0.941 0 0 0 0 0.690 0 0 0 0 0.863 -14 0 0 0 5.6"/><feGaussianBlur stdDeviation="0.6"/><feComposite in2="SourceGraphic" operator="in"/></filter>
<filter id="nz32" x="0" y="0" width="100%" height="100%" color-interpolation-filters="sRGB"><feTurbulence type="fractalNoise" baseFrequency="0.45" numOctaves="1" seed="694"/><feColorMatrix type="matrix" values="1 0 0 0 0 0 1 0 0 0 0 0 1 0 0 0 0 0 0 1" result="n1"/><feTurbulence type="fractalNoise" baseFrequency="0.05" numOctaves="2" seed="795"/><feColorMatrix type="matrix" values="1 0 0 0 0 0 1 0 0 0 0 0 1 0 0 0 0 0 0 1" result="n2"/><feComposite in="n1" in2="n2" operator="arithmetic" k1="0" k2="1" k3="0.5" k4="-0.25" result="n"/><feColorMatrix in="n" type="matrix" values="0 0 0 0 0.627 0 0 0 0 0.439 0 0 0 0 0.753 -14 0 0 0 5.0"/><feGaussianBlur stdDeviation="0.6"/><feComposite in2="SourceGraphic" operator="in"/></filter></defs>
</svg></body></html>
